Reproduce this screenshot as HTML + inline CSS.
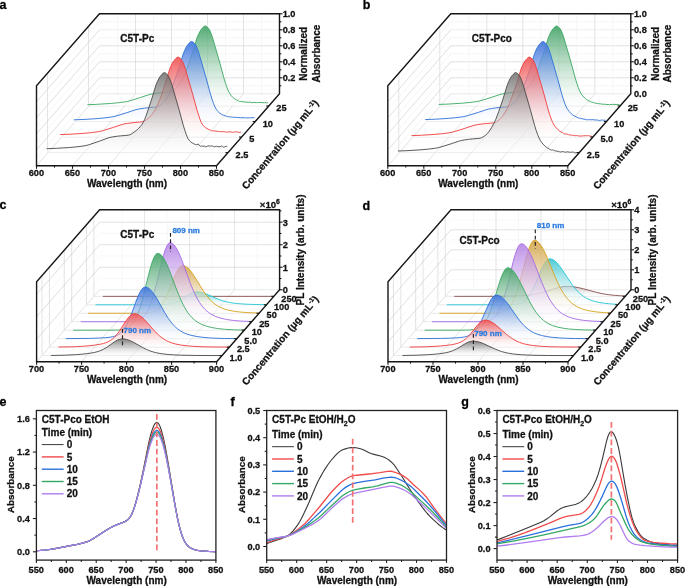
<!DOCTYPE html>
<html><head><meta charset="utf-8"><style>
html,body{margin:0;padding:0;background:#fff;}
svg{display:block;font-family:"Liberation Sans", sans-serif;filter:blur(0.25px);}
</style></head><body>
<svg width="685" height="586" viewBox="0 0 685 586">
<defs><linearGradient id="g1" gradientUnits="userSpaceOnUse" x1="0" y1="25.98" x2="0" y2="105.97"><stop offset="0" stop-color="#3c9f62" stop-opacity="0.880"/><stop offset="0.2" stop-color="#3c9f62" stop-opacity="0.629"/><stop offset="0.4" stop-color="#3c9f62" stop-opacity="0.409"/><stop offset="0.6" stop-color="#3c9f62" stop-opacity="0.223"/><stop offset="0.8" stop-color="#3c9f62" stop-opacity="0.078"/><stop offset="1.0" stop-color="#3c9f62" stop-opacity="0.000"/></linearGradient><linearGradient id="g2" gradientUnits="userSpaceOnUse" x1="0" y1="41.53" x2="0" y2="121.52"><stop offset="0" stop-color="#3b72dc" stop-opacity="0.900"/><stop offset="0.2" stop-color="#3b72dc" stop-opacity="0.643"/><stop offset="0.4" stop-color="#3b72dc" stop-opacity="0.419"/><stop offset="0.6" stop-color="#3b72dc" stop-opacity="0.228"/><stop offset="0.8" stop-color="#3b72dc" stop-opacity="0.080"/><stop offset="1.0" stop-color="#3b72dc" stop-opacity="0.000"/></linearGradient><linearGradient id="g3" gradientUnits="userSpaceOnUse" x1="0" y1="57.09" x2="0" y2="137.07"><stop offset="0" stop-color="#f05050" stop-opacity="0.900"/><stop offset="0.2" stop-color="#f05050" stop-opacity="0.643"/><stop offset="0.4" stop-color="#f05050" stop-opacity="0.419"/><stop offset="0.6" stop-color="#f05050" stop-opacity="0.228"/><stop offset="0.8" stop-color="#f05050" stop-opacity="0.080"/><stop offset="1.0" stop-color="#f05050" stop-opacity="0.000"/></linearGradient><linearGradient id="g4" gradientUnits="userSpaceOnUse" x1="0" y1="72.64" x2="0" y2="152.62"><stop offset="0" stop-color="#4a4a4a" stop-opacity="0.680"/><stop offset="0.2" stop-color="#4a4a4a" stop-opacity="0.486"/><stop offset="0.4" stop-color="#4a4a4a" stop-opacity="0.316"/><stop offset="0.6" stop-color="#4a4a4a" stop-opacity="0.172"/><stop offset="0.8" stop-color="#4a4a4a" stop-opacity="0.061"/><stop offset="1.0" stop-color="#4a4a4a" stop-opacity="0.000"/></linearGradient><linearGradient id="g5" gradientUnits="userSpaceOnUse" x1="0" y1="25.98" x2="0" y2="105.97"><stop offset="0" stop-color="#3c9f62" stop-opacity="0.880"/><stop offset="0.2" stop-color="#3c9f62" stop-opacity="0.629"/><stop offset="0.4" stop-color="#3c9f62" stop-opacity="0.409"/><stop offset="0.6" stop-color="#3c9f62" stop-opacity="0.223"/><stop offset="0.8" stop-color="#3c9f62" stop-opacity="0.078"/><stop offset="1.0" stop-color="#3c9f62" stop-opacity="0.000"/></linearGradient><linearGradient id="g6" gradientUnits="userSpaceOnUse" x1="0" y1="41.53" x2="0" y2="121.52"><stop offset="0" stop-color="#3b72dc" stop-opacity="0.900"/><stop offset="0.2" stop-color="#3b72dc" stop-opacity="0.643"/><stop offset="0.4" stop-color="#3b72dc" stop-opacity="0.419"/><stop offset="0.6" stop-color="#3b72dc" stop-opacity="0.228"/><stop offset="0.8" stop-color="#3b72dc" stop-opacity="0.080"/><stop offset="1.0" stop-color="#3b72dc" stop-opacity="0.000"/></linearGradient><linearGradient id="g7" gradientUnits="userSpaceOnUse" x1="0" y1="57.09" x2="0" y2="137.07"><stop offset="0" stop-color="#f05050" stop-opacity="0.900"/><stop offset="0.2" stop-color="#f05050" stop-opacity="0.643"/><stop offset="0.4" stop-color="#f05050" stop-opacity="0.419"/><stop offset="0.6" stop-color="#f05050" stop-opacity="0.228"/><stop offset="0.8" stop-color="#f05050" stop-opacity="0.080"/><stop offset="1.0" stop-color="#f05050" stop-opacity="0.000"/></linearGradient><linearGradient id="g8" gradientUnits="userSpaceOnUse" x1="0" y1="72.64" x2="0" y2="152.62"><stop offset="0" stop-color="#4a4a4a" stop-opacity="0.680"/><stop offset="0.2" stop-color="#4a4a4a" stop-opacity="0.486"/><stop offset="0.4" stop-color="#4a4a4a" stop-opacity="0.316"/><stop offset="0.6" stop-color="#4a4a4a" stop-opacity="0.172"/><stop offset="0.8" stop-color="#4a4a4a" stop-opacity="0.061"/><stop offset="1.0" stop-color="#4a4a4a" stop-opacity="0.000"/></linearGradient><linearGradient id="g9" gradientUnits="userSpaceOnUse" x1="0" y1="291.74" x2="0" y2="304.81"><stop offset="0" stop-color="#30c2cc" stop-opacity="0.850"/><stop offset="0.2" stop-color="#30c2cc" stop-opacity="0.608"/><stop offset="0.4" stop-color="#30c2cc" stop-opacity="0.395"/><stop offset="0.6" stop-color="#30c2cc" stop-opacity="0.215"/><stop offset="0.8" stop-color="#30c2cc" stop-opacity="0.076"/><stop offset="1.0" stop-color="#30c2cc" stop-opacity="0.000"/></linearGradient><linearGradient id="g10" gradientUnits="userSpaceOnUse" x1="0" y1="265.57" x2="0" y2="313.27"><stop offset="0" stop-color="#d0a040" stop-opacity="0.880"/><stop offset="0.2" stop-color="#d0a040" stop-opacity="0.629"/><stop offset="0.4" stop-color="#d0a040" stop-opacity="0.409"/><stop offset="0.6" stop-color="#d0a040" stop-opacity="0.223"/><stop offset="0.8" stop-color="#d0a040" stop-opacity="0.078"/><stop offset="1.0" stop-color="#d0a040" stop-opacity="0.000"/></linearGradient><linearGradient id="g11" gradientUnits="userSpaceOnUse" x1="0" y1="242.68" x2="0" y2="321.73"><stop offset="0" stop-color="#a86ce0" stop-opacity="0.750"/><stop offset="0.2" stop-color="#a86ce0" stop-opacity="0.536"/><stop offset="0.4" stop-color="#a86ce0" stop-opacity="0.349"/><stop offset="0.6" stop-color="#a86ce0" stop-opacity="0.190"/><stop offset="0.8" stop-color="#a86ce0" stop-opacity="0.067"/><stop offset="1.0" stop-color="#a86ce0" stop-opacity="0.000"/></linearGradient><linearGradient id="g12" gradientUnits="userSpaceOnUse" x1="0" y1="253.35" x2="0" y2="330.19"><stop offset="0" stop-color="#3c9f62" stop-opacity="0.880"/><stop offset="0.2" stop-color="#3c9f62" stop-opacity="0.629"/><stop offset="0.4" stop-color="#3c9f62" stop-opacity="0.409"/><stop offset="0.6" stop-color="#3c9f62" stop-opacity="0.223"/><stop offset="0.8" stop-color="#3c9f62" stop-opacity="0.078"/><stop offset="1.0" stop-color="#3c9f62" stop-opacity="0.000"/></linearGradient><linearGradient id="g13" gradientUnits="userSpaceOnUse" x1="0" y1="287.05" x2="0" y2="338.65"><stop offset="0" stop-color="#3b72dc" stop-opacity="0.900"/><stop offset="0.2" stop-color="#3b72dc" stop-opacity="0.643"/><stop offset="0.4" stop-color="#3b72dc" stop-opacity="0.419"/><stop offset="0.6" stop-color="#3b72dc" stop-opacity="0.228"/><stop offset="0.8" stop-color="#3b72dc" stop-opacity="0.080"/><stop offset="1.0" stop-color="#3b72dc" stop-opacity="0.000"/></linearGradient><linearGradient id="g14" gradientUnits="userSpaceOnUse" x1="0" y1="313.76" x2="0" y2="347.11"><stop offset="0" stop-color="#f05050" stop-opacity="0.900"/><stop offset="0.2" stop-color="#f05050" stop-opacity="0.643"/><stop offset="0.4" stop-color="#f05050" stop-opacity="0.419"/><stop offset="0.6" stop-color="#f05050" stop-opacity="0.228"/><stop offset="0.8" stop-color="#f05050" stop-opacity="0.080"/><stop offset="1.0" stop-color="#f05050" stop-opacity="0.000"/></linearGradient><linearGradient id="g15" gradientUnits="userSpaceOnUse" x1="0" y1="338.91" x2="0" y2="355.57"><stop offset="0" stop-color="#4a4a4a" stop-opacity="0.680"/><stop offset="0.2" stop-color="#4a4a4a" stop-opacity="0.486"/><stop offset="0.4" stop-color="#4a4a4a" stop-opacity="0.316"/><stop offset="0.6" stop-color="#4a4a4a" stop-opacity="0.172"/><stop offset="0.8" stop-color="#4a4a4a" stop-opacity="0.061"/><stop offset="1.0" stop-color="#4a4a4a" stop-opacity="0.000"/></linearGradient><linearGradient id="g16" gradientUnits="userSpaceOnUse" x1="0" y1="286.35" x2="0" y2="296.35"><stop offset="0" stop-color="#8c7070" stop-opacity="0.400"/><stop offset="0.2" stop-color="#8c7070" stop-opacity="0.286"/><stop offset="0.4" stop-color="#8c7070" stop-opacity="0.186"/><stop offset="0.6" stop-color="#8c7070" stop-opacity="0.101"/><stop offset="0.8" stop-color="#8c7070" stop-opacity="0.036"/><stop offset="1.0" stop-color="#8c7070" stop-opacity="0.000"/></linearGradient><linearGradient id="g17" gradientUnits="userSpaceOnUse" x1="0" y1="258.81" x2="0" y2="304.81"><stop offset="0" stop-color="#30c2cc" stop-opacity="0.850"/><stop offset="0.2" stop-color="#30c2cc" stop-opacity="0.608"/><stop offset="0.4" stop-color="#30c2cc" stop-opacity="0.395"/><stop offset="0.6" stop-color="#30c2cc" stop-opacity="0.215"/><stop offset="0.8" stop-color="#30c2cc" stop-opacity="0.076"/><stop offset="1.0" stop-color="#30c2cc" stop-opacity="0.000"/></linearGradient><linearGradient id="g18" gradientUnits="userSpaceOnUse" x1="0" y1="240.29" x2="0" y2="313.27"><stop offset="0" stop-color="#d0a040" stop-opacity="0.880"/><stop offset="0.2" stop-color="#d0a040" stop-opacity="0.629"/><stop offset="0.4" stop-color="#d0a040" stop-opacity="0.409"/><stop offset="0.6" stop-color="#d0a040" stop-opacity="0.223"/><stop offset="0.8" stop-color="#d0a040" stop-opacity="0.078"/><stop offset="1.0" stop-color="#d0a040" stop-opacity="0.000"/></linearGradient><linearGradient id="g19" gradientUnits="userSpaceOnUse" x1="0" y1="243.8" x2="0" y2="321.73"><stop offset="0" stop-color="#a86ce0" stop-opacity="0.750"/><stop offset="0.2" stop-color="#a86ce0" stop-opacity="0.536"/><stop offset="0.4" stop-color="#a86ce0" stop-opacity="0.349"/><stop offset="0.6" stop-color="#a86ce0" stop-opacity="0.190"/><stop offset="0.8" stop-color="#a86ce0" stop-opacity="0.067"/><stop offset="1.0" stop-color="#a86ce0" stop-opacity="0.000"/></linearGradient><linearGradient id="g20" gradientUnits="userSpaceOnUse" x1="0" y1="267.81" x2="0" y2="330.19"><stop offset="0" stop-color="#3c9f62" stop-opacity="0.880"/><stop offset="0.2" stop-color="#3c9f62" stop-opacity="0.629"/><stop offset="0.4" stop-color="#3c9f62" stop-opacity="0.409"/><stop offset="0.6" stop-color="#3c9f62" stop-opacity="0.223"/><stop offset="0.8" stop-color="#3c9f62" stop-opacity="0.078"/><stop offset="1.0" stop-color="#3c9f62" stop-opacity="0.000"/></linearGradient><linearGradient id="g21" gradientUnits="userSpaceOnUse" x1="0" y1="295.05" x2="0" y2="338.65"><stop offset="0" stop-color="#3b72dc" stop-opacity="0.900"/><stop offset="0.2" stop-color="#3b72dc" stop-opacity="0.643"/><stop offset="0.4" stop-color="#3b72dc" stop-opacity="0.419"/><stop offset="0.6" stop-color="#3b72dc" stop-opacity="0.228"/><stop offset="0.8" stop-color="#3b72dc" stop-opacity="0.080"/><stop offset="1.0" stop-color="#3b72dc" stop-opacity="0.000"/></linearGradient><linearGradient id="g22" gradientUnits="userSpaceOnUse" x1="0" y1="320.12" x2="0" y2="347.11"><stop offset="0" stop-color="#f05050" stop-opacity="0.900"/><stop offset="0.2" stop-color="#f05050" stop-opacity="0.643"/><stop offset="0.4" stop-color="#f05050" stop-opacity="0.419"/><stop offset="0.6" stop-color="#f05050" stop-opacity="0.228"/><stop offset="0.8" stop-color="#f05050" stop-opacity="0.080"/><stop offset="1.0" stop-color="#f05050" stop-opacity="0.000"/></linearGradient><linearGradient id="g23" gradientUnits="userSpaceOnUse" x1="0" y1="341.18" x2="0" y2="355.57"><stop offset="0" stop-color="#4a4a4a" stop-opacity="0.680"/><stop offset="0.2" stop-color="#4a4a4a" stop-opacity="0.486"/><stop offset="0.4" stop-color="#4a4a4a" stop-opacity="0.316"/><stop offset="0.6" stop-color="#4a4a4a" stop-opacity="0.172"/><stop offset="0.8" stop-color="#4a4a4a" stop-opacity="0.061"/><stop offset="1.0" stop-color="#4a4a4a" stop-opacity="0.000"/></linearGradient></defs>
<rect width="685" height="586" fill="#fff"/>
<line x1="99.5" y1="85.8" x2="279.5" y2="85.8" stroke="#eeeeee" stroke-width="0.6" />
<line x1="99.5" y1="69.8" x2="279.5" y2="69.8" stroke="#eeeeee" stroke-width="0.6" />
<line x1="99.5" y1="53.8" x2="279.5" y2="53.8" stroke="#eeeeee" stroke-width="0.6" />
<line x1="99.5" y1="37.8" x2="279.5" y2="37.8" stroke="#eeeeee" stroke-width="0.6" />
<line x1="99.5" y1="21.8" x2="279.5" y2="21.8" stroke="#eeeeee" stroke-width="0.6" />
<line x1="99.5" y1="77.8" x2="279.5" y2="77.8" stroke="#cdcdcd" stroke-width="0.6" />
<line x1="99.5" y1="61.8" x2="279.5" y2="61.8" stroke="#cdcdcd" stroke-width="0.6" />
<line x1="99.5" y1="45.8" x2="279.5" y2="45.8" stroke="#cdcdcd" stroke-width="0.6" />
<line x1="99.5" y1="29.8" x2="279.5" y2="29.8" stroke="#e3e3e3" stroke-width="0.6" />
<line x1="117.5" y1="93.8" x2="117.5" y2="13.8" stroke="#f0f0f0" stroke-width="0.6" />
<line x1="153.5" y1="93.8" x2="153.5" y2="13.8" stroke="#f0f0f0" stroke-width="0.6" />
<line x1="189.5" y1="93.8" x2="189.5" y2="13.8" stroke="#f0f0f0" stroke-width="0.6" />
<line x1="225.5" y1="93.8" x2="225.5" y2="13.8" stroke="#f0f0f0" stroke-width="0.6" />
<line x1="261.5" y1="93.8" x2="261.5" y2="13.8" stroke="#f0f0f0" stroke-width="0.6" />
<line x1="135.5" y1="93.8" x2="135.5" y2="13.8" stroke="#d2d2d2" stroke-width="0.6" />
<line x1="171.5" y1="93.8" x2="171.5" y2="13.8" stroke="#d2d2d2" stroke-width="0.6" />
<line x1="207.5" y1="93.8" x2="207.5" y2="13.8" stroke="#d2d2d2" stroke-width="0.6" />
<line x1="243.5" y1="93.8" x2="243.5" y2="13.8" stroke="#d2d2d2" stroke-width="0.6" />
<line x1="36.5" y1="157.8" x2="99.5" y2="85.8" stroke="#eeeeee" stroke-width="0.6" />
<line x1="36.5" y1="141.8" x2="99.5" y2="69.8" stroke="#eeeeee" stroke-width="0.6" />
<line x1="36.5" y1="125.8" x2="99.5" y2="53.8" stroke="#eeeeee" stroke-width="0.6" />
<line x1="36.5" y1="109.8" x2="99.5" y2="37.8" stroke="#eeeeee" stroke-width="0.6" />
<line x1="36.5" y1="93.8" x2="99.5" y2="21.8" stroke="#eeeeee" stroke-width="0.6" />
<line x1="36.5" y1="149.8" x2="99.5" y2="77.8" stroke="#c8c8c8" stroke-width="0.6" />
<line x1="36.5" y1="133.8" x2="99.5" y2="61.8" stroke="#c8c8c8" stroke-width="0.6" />
<line x1="36.5" y1="117.8" x2="99.5" y2="45.8" stroke="#c8c8c8" stroke-width="0.6" />
<line x1="36.5" y1="101.8" x2="99.5" y2="29.8" stroke="#c8c8c8" stroke-width="0.6" />
<line x1="47.52" y1="153.2" x2="47.52" y2="73.2" stroke="#d0d0d0" stroke-width="0.6" />
<line x1="88.47" y1="106.4" x2="88.47" y2="26.4" stroke="#d0d0d0" stroke-width="0.6" />
<line x1="36.5" y1="165.8" x2="99.5" y2="93.8" stroke="#cfcfcf" stroke-width="0.6" />
<line x1="99.5" y1="93.8" x2="279.5" y2="93.8" stroke="#d6d6d6" stroke-width="0.6" />
<line x1="48.03" y1="152.62" x2="228.03" y2="152.62" stroke="#e8e8e8" stroke-width="1.0" />
<line x1="61.64" y1="137.07" x2="241.64" y2="137.07" stroke="#e8e8e8" stroke-width="1.0" />
<line x1="75.25" y1="121.52" x2="255.25" y2="121.52" stroke="#e8e8e8" stroke-width="1.0" />
<line x1="88.85" y1="105.97" x2="268.85" y2="105.97" stroke="#e8e8e8" stroke-width="1.0" />
<line x1="72.5" y1="165.8" x2="135.5" y2="93.8" stroke="#d0d0d0" stroke-width="0.6" />
<line x1="108.5" y1="165.8" x2="171.5" y2="93.8" stroke="#d0d0d0" stroke-width="0.6" />
<line x1="144.5" y1="165.8" x2="207.5" y2="93.8" stroke="#d0d0d0" stroke-width="0.6" />
<line x1="180.5" y1="165.8" x2="243.5" y2="93.8" stroke="#d0d0d0" stroke-width="0.6" />
<line x1="216.5" y1="165.8" x2="279.5" y2="93.8" stroke="#d0d0d0" stroke-width="0.6" />
<path d="M87.41,104.69 L97.49,104.30 L110.45,103.47 L117.65,102.81 L124.85,101.89 L127.73,101.33 L130.61,100.57 L140.69,97.44 L147.89,95.00 L150.77,94.20 L153.65,93.63 L157.97,93.02 L162.29,92.55 L166.61,92.24 L169.49,91.89 L170.93,91.47 L172.37,90.73 L173.81,89.78 L175.25,88.69 L176.69,87.33 L178.13,85.55 L179.57,83.44 L181.01,81.06 L183.89,75.76 L185.33,72.55 L188.21,64.99 L192.53,52.37 L196.85,38.23 L198.29,34.72 L199.73,31.78 L201.17,29.57 L202.61,27.82 L204.05,26.43 L205.49,25.98 L206.93,26.74 L208.37,28.27 L209.81,30.37 L211.25,33.95 L212.69,38.15 L219.89,63.10 L224.21,79.04 L225.65,83.63 L227.09,87.78 L228.53,91.35 L229.97,93.95 L231.41,95.88 L232.85,97.37 L234.29,98.56 L236.45,99.84 L237.17,100.01 L238.61,101.03 L239.33,101.38 L240.77,101.37 L242.93,101.80 L245.81,102.02 L247.97,102.34 L249.41,102.16 L250.13,102.22 L251.57,102.69 L253.73,102.39 L255.17,102.61 L256.61,102.64 L257.33,102.53 L258.05,102.63 L258.77,102.52 L260.93,102.50 L263.09,102.70 L264.53,102.57 L266.69,102.78 L268.13,102.74 L268.13,105.97 L87.41,105.97Z" fill="#fff" fill-opacity="0.45" stroke="none"/>
<path d="M87.41,104.69 L97.49,104.30 L110.45,103.47 L117.65,102.81 L124.85,101.89 L127.73,101.33 L130.61,100.57 L140.69,97.44 L147.89,95.00 L150.77,94.20 L153.65,93.63 L157.97,93.02 L162.29,92.55 L166.61,92.24 L169.49,91.89 L170.93,91.47 L172.37,90.73 L173.81,89.78 L175.25,88.69 L176.69,87.33 L178.13,85.55 L179.57,83.44 L181.01,81.06 L183.89,75.76 L185.33,72.55 L188.21,64.99 L192.53,52.37 L196.85,38.23 L198.29,34.72 L199.73,31.78 L201.17,29.57 L202.61,27.82 L204.05,26.43 L205.49,25.98 L206.93,26.74 L208.37,28.27 L209.81,30.37 L211.25,33.95 L212.69,38.15 L219.89,63.10 L224.21,79.04 L225.65,83.63 L227.09,87.78 L228.53,91.35 L229.97,93.95 L231.41,95.88 L232.85,97.37 L234.29,98.56 L236.45,99.84 L237.17,100.01 L238.61,101.03 L239.33,101.38 L240.77,101.37 L242.93,101.80 L245.81,102.02 L247.97,102.34 L249.41,102.16 L250.13,102.22 L251.57,102.69 L253.73,102.39 L255.17,102.61 L256.61,102.64 L257.33,102.53 L258.05,102.63 L258.77,102.52 L260.93,102.50 L263.09,102.70 L264.53,102.57 L266.69,102.78 L268.13,102.74 L268.13,105.97 L87.41,105.97Z" fill="url(#g1)" stroke="none"/>
<path d="M87.41,104.69 L97.49,104.30 L110.45,103.47 L117.65,102.81 L124.85,101.89 L127.73,101.33 L130.61,100.57 L140.69,97.44 L147.89,95.00 L150.77,94.20 L153.65,93.63 L157.97,93.02 L162.29,92.55 L166.61,92.24 L169.49,91.89 L170.93,91.47 L172.37,90.73 L173.81,89.78 L175.25,88.69 L176.69,87.33 L178.13,85.55 L179.57,83.44 L181.01,81.06 L183.89,75.76 L185.33,72.55 L188.21,64.99 L192.53,52.37 L196.85,38.23 L198.29,34.72 L199.73,31.78 L201.17,29.57 L202.61,27.82 L204.05,26.43 L205.49,25.98 L206.93,26.74 L208.37,28.27 L209.81,30.37 L211.25,33.95 L212.69,38.15 L219.89,63.10 L224.21,79.04 L225.65,83.63 L227.09,87.78 L228.53,91.35 L229.97,93.95 L231.41,95.88 L232.85,97.37 L234.29,98.56 L236.45,99.84 L237.17,100.01 L238.61,101.03 L239.33,101.38 L240.77,101.37 L242.93,101.80 L245.81,102.02 L247.97,102.34 L249.41,102.16 L250.13,102.22 L251.57,102.69 L253.73,102.39 L255.17,102.61 L256.61,102.64 L257.33,102.53 L258.05,102.63 L258.77,102.52 L260.93,102.50 L263.09,102.70 L264.53,102.57 L266.69,102.78 L268.13,102.74" fill="none" stroke="#3aa862" stroke-width="0.9" stroke-linejoin="round"/>
<path d="M73.81,119.84 L83.88,119.45 L96.84,118.62 L104.04,117.97 L111.25,117.04 L114.12,116.48 L117.00,115.72 L127.09,112.60 L134.28,110.15 L137.16,109.35 L140.04,108.79 L144.37,108.17 L148.69,107.70 L153.00,107.39 L155.88,107.04 L157.32,106.62 L158.77,105.88 L161.64,103.84 L163.09,102.51 L164.53,100.80 L165.97,98.78 L167.41,96.50 L170.29,91.33 L171.73,88.16 L174.61,80.59 L178.93,67.92 L183.25,53.78 L184.69,50.28 L186.12,47.33 L187.56,45.12 L189.00,43.37 L190.44,41.98 L191.88,41.53 L193.32,42.29 L194.77,43.82 L196.21,45.92 L197.65,49.50 L199.08,53.70 L206.28,78.66 L210.61,94.59 L212.05,99.18 L213.49,103.36 L214.93,106.93 L216.37,109.45 L217.81,111.29 L219.97,113.30 L221.41,114.29 L222.84,115.05 L223.56,115.16 L225.00,115.86 L226.44,116.23 L227.16,116.16 L227.88,116.62 L229.32,116.91 L230.05,116.86 L231.49,117.08 L232.21,117.07 L233.65,117.36 L235.81,117.27 L237.25,117.50 L237.97,117.45 L240.12,117.82 L244.44,117.67 L245.16,117.87 L245.88,117.74 L246.60,117.95 L249.49,117.78 L250.21,117.88 L253.09,117.66 L254.53,117.72 L254.53,121.52 L73.81,121.52Z" fill="#fff" fill-opacity="0.45" stroke="none"/>
<path d="M73.81,119.84 L83.88,119.45 L96.84,118.62 L104.04,117.97 L111.25,117.04 L114.12,116.48 L117.00,115.72 L127.09,112.60 L134.28,110.15 L137.16,109.35 L140.04,108.79 L144.37,108.17 L148.69,107.70 L153.00,107.39 L155.88,107.04 L157.32,106.62 L158.77,105.88 L161.64,103.84 L163.09,102.51 L164.53,100.80 L165.97,98.78 L167.41,96.50 L170.29,91.33 L171.73,88.16 L174.61,80.59 L178.93,67.92 L183.25,53.78 L184.69,50.28 L186.12,47.33 L187.56,45.12 L189.00,43.37 L190.44,41.98 L191.88,41.53 L193.32,42.29 L194.77,43.82 L196.21,45.92 L197.65,49.50 L199.08,53.70 L206.28,78.66 L210.61,94.59 L212.05,99.18 L213.49,103.36 L214.93,106.93 L216.37,109.45 L217.81,111.29 L219.97,113.30 L221.41,114.29 L222.84,115.05 L223.56,115.16 L225.00,115.86 L226.44,116.23 L227.16,116.16 L227.88,116.62 L229.32,116.91 L230.05,116.86 L231.49,117.08 L232.21,117.07 L233.65,117.36 L235.81,117.27 L237.25,117.50 L237.97,117.45 L240.12,117.82 L244.44,117.67 L245.16,117.87 L245.88,117.74 L246.60,117.95 L249.49,117.78 L250.21,117.88 L253.09,117.66 L254.53,117.72 L254.53,121.52 L73.81,121.52Z" fill="url(#g2)" stroke="none"/>
<path d="M73.81,119.84 L83.88,119.45 L96.84,118.62 L104.04,117.97 L111.25,117.04 L114.12,116.48 L117.00,115.72 L127.09,112.60 L134.28,110.15 L137.16,109.35 L140.04,108.79 L144.37,108.17 L148.69,107.70 L153.00,107.39 L155.88,107.04 L157.32,106.62 L158.77,105.88 L161.64,103.84 L163.09,102.51 L164.53,100.80 L165.97,98.78 L167.41,96.50 L170.29,91.33 L171.73,88.16 L174.61,80.59 L178.93,67.92 L183.25,53.78 L184.69,50.28 L186.12,47.33 L187.56,45.12 L189.00,43.37 L190.44,41.98 L191.88,41.53 L193.32,42.29 L194.77,43.82 L196.21,45.92 L197.65,49.50 L199.08,53.70 L206.28,78.66 L210.61,94.59 L212.05,99.18 L213.49,103.36 L214.93,106.93 L216.37,109.45 L217.81,111.29 L219.97,113.30 L221.41,114.29 L222.84,115.05 L223.56,115.16 L225.00,115.86 L226.44,116.23 L227.16,116.16 L227.88,116.62 L229.32,116.91 L230.05,116.86 L231.49,117.08 L232.21,117.07 L233.65,117.36 L235.81,117.27 L237.25,117.50 L237.97,117.45 L240.12,117.82 L244.44,117.67 L245.16,117.87 L245.88,117.74 L246.60,117.95 L249.49,117.78 L250.21,117.88 L253.09,117.66 L254.53,117.72" fill="none" stroke="#2b6fd8" stroke-width="0.9" stroke-linejoin="round"/>
<path d="M60.20,134.59 L70.28,134.20 L83.24,133.37 L90.44,132.72 L97.64,131.79 L100.52,131.23 L103.40,130.47 L113.48,127.35 L120.68,124.91 L123.56,124.10 L126.44,123.54 L130.76,122.93 L135.08,122.45 L139.40,122.14 L142.28,121.79 L143.72,121.36 L145.16,120.62 L148.04,118.59 L149.48,117.33 L150.92,115.75 L152.36,113.90 L153.80,111.81 L155.24,109.50 L156.68,106.94 L158.12,103.83 L159.56,100.21 L161.00,96.24 L165.32,83.47 L169.64,69.34 L171.08,65.83 L172.52,62.88 L173.96,60.67 L175.40,58.92 L176.84,57.53 L178.28,57.09 L179.72,57.84 L181.16,59.37 L182.60,61.47 L184.04,65.05 L185.48,69.25 L192.68,94.21 L197.00,110.14 L199.88,118.97 L201.32,122.56 L202.76,124.89 L204.20,126.47 L205.64,127.70 L207.08,128.68 L209.24,129.75 L209.96,129.97 L210.68,130.06 L211.40,130.62 L212.12,130.88 L212.84,130.98 L214.28,130.84 L215.00,130.87 L217.16,131.31 L218.60,131.47 L219.32,131.55 L220.76,131.51 L222.20,131.78 L222.92,131.60 L223.64,131.61 L224.36,131.73 L225.08,132.02 L225.80,131.85 L226.52,132.09 L227.96,132.06 L229.40,131.80 L230.84,131.86 L232.28,132.30 L233.00,132.31 L233.72,132.11 L234.44,132.03 L235.16,131.73 L235.88,131.98 L236.60,131.74 L238.76,132.45 L240.92,132.23 L240.92,137.07 L60.20,137.07Z" fill="#fff" fill-opacity="0.45" stroke="none"/>
<path d="M60.20,134.59 L70.28,134.20 L83.24,133.37 L90.44,132.72 L97.64,131.79 L100.52,131.23 L103.40,130.47 L113.48,127.35 L120.68,124.91 L123.56,124.10 L126.44,123.54 L130.76,122.93 L135.08,122.45 L139.40,122.14 L142.28,121.79 L143.72,121.36 L145.16,120.62 L148.04,118.59 L149.48,117.33 L150.92,115.75 L152.36,113.90 L153.80,111.81 L155.24,109.50 L156.68,106.94 L158.12,103.83 L159.56,100.21 L161.00,96.24 L165.32,83.47 L169.64,69.34 L171.08,65.83 L172.52,62.88 L173.96,60.67 L175.40,58.92 L176.84,57.53 L178.28,57.09 L179.72,57.84 L181.16,59.37 L182.60,61.47 L184.04,65.05 L185.48,69.25 L192.68,94.21 L197.00,110.14 L199.88,118.97 L201.32,122.56 L202.76,124.89 L204.20,126.47 L205.64,127.70 L207.08,128.68 L209.24,129.75 L209.96,129.97 L210.68,130.06 L211.40,130.62 L212.12,130.88 L212.84,130.98 L214.28,130.84 L215.00,130.87 L217.16,131.31 L218.60,131.47 L219.32,131.55 L220.76,131.51 L222.20,131.78 L222.92,131.60 L223.64,131.61 L224.36,131.73 L225.08,132.02 L225.80,131.85 L226.52,132.09 L227.96,132.06 L229.40,131.80 L230.84,131.86 L232.28,132.30 L233.00,132.31 L233.72,132.11 L234.44,132.03 L235.16,131.73 L235.88,131.98 L236.60,131.74 L238.76,132.45 L240.92,132.23 L240.92,137.07 L60.20,137.07Z" fill="url(#g3)" stroke="none"/>
<path d="M60.20,134.59 L70.28,134.20 L83.24,133.37 L90.44,132.72 L97.64,131.79 L100.52,131.23 L103.40,130.47 L113.48,127.35 L120.68,124.91 L123.56,124.10 L126.44,123.54 L130.76,122.93 L135.08,122.45 L139.40,122.14 L142.28,121.79 L143.72,121.36 L145.16,120.62 L148.04,118.59 L149.48,117.33 L150.92,115.75 L152.36,113.90 L153.80,111.81 L155.24,109.50 L156.68,106.94 L158.12,103.83 L159.56,100.21 L161.00,96.24 L165.32,83.47 L169.64,69.34 L171.08,65.83 L172.52,62.88 L173.96,60.67 L175.40,58.92 L176.84,57.53 L178.28,57.09 L179.72,57.84 L181.16,59.37 L182.60,61.47 L184.04,65.05 L185.48,69.25 L192.68,94.21 L197.00,110.14 L199.88,118.97 L201.32,122.56 L202.76,124.89 L204.20,126.47 L205.64,127.70 L207.08,128.68 L209.24,129.75 L209.96,129.97 L210.68,130.06 L211.40,130.62 L212.12,130.88 L212.84,130.98 L214.28,130.84 L215.00,130.87 L217.16,131.31 L218.60,131.47 L219.32,131.55 L220.76,131.51 L222.20,131.78 L222.92,131.60 L223.64,131.61 L224.36,131.73 L225.08,132.02 L225.80,131.85 L226.52,132.09 L227.96,132.06 L229.40,131.80 L230.84,131.86 L232.28,132.30 L233.00,132.31 L233.72,132.11 L234.44,132.03 L235.16,131.73 L235.88,131.98 L236.60,131.74 L238.76,132.45 L240.92,132.23" fill="none" stroke="#ee3b3b" stroke-width="0.9" stroke-linejoin="round"/>
<path d="M46.59,148.70 L56.67,148.31 L69.63,147.49 L76.83,146.84 L84.03,145.90 L86.91,145.31 L89.79,144.48 L99.87,141.01 L107.07,138.30 L109.95,137.43 L112.83,136.85 L117.15,136.23 L121.47,135.77 L125.79,135.45 L128.67,135.10 L130.11,134.66 L131.55,133.89 L135.87,130.83 L137.31,129.62 L138.75,128.24 L140.19,126.66 L141.63,124.84 L143.07,122.66 L144.51,119.73 L145.95,116.14 L147.39,112.08 L151.71,99.02 L156.03,84.89 L157.47,81.38 L158.91,78.44 L160.35,76.22 L161.79,74.47 L163.23,73.08 L164.67,72.64 L166.11,73.39 L167.55,74.93 L168.99,77.02 L170.43,80.61 L171.87,84.81 L179.07,109.76 L183.39,125.69 L184.83,130.29 L186.27,134.59 L187.71,138.18 L189.15,140.33 L190.59,141.70 L192.03,142.77 L193.47,143.63 L195.63,144.56 L196.35,144.68 L197.07,144.38 L198.51,144.30 L199.23,145.33 L200.67,146.34 L201.39,145.95 L202.11,146.41 L202.83,146.14 L204.27,145.98 L205.71,146.86 L207.15,146.37 L207.87,145.85 L209.31,145.93 L210.03,146.31 L210.75,145.96 L211.47,145.98 L212.19,145.76 L212.91,146.32 L213.63,146.52 L214.35,146.95 L215.07,146.46 L216.51,146.21 L217.23,146.59 L220.11,146.81 L220.83,146.21 L221.55,146.08 L222.27,146.28 L222.99,146.99 L223.71,147.20 L224.43,146.99 L225.87,146.35 L226.59,146.39 L227.31,146.55 L227.31,152.62 L46.59,152.62Z" fill="#fff" fill-opacity="0.45" stroke="none"/>
<path d="M46.59,148.70 L56.67,148.31 L69.63,147.49 L76.83,146.84 L84.03,145.90 L86.91,145.31 L89.79,144.48 L99.87,141.01 L107.07,138.30 L109.95,137.43 L112.83,136.85 L117.15,136.23 L121.47,135.77 L125.79,135.45 L128.67,135.10 L130.11,134.66 L131.55,133.89 L135.87,130.83 L137.31,129.62 L138.75,128.24 L140.19,126.66 L141.63,124.84 L143.07,122.66 L144.51,119.73 L145.95,116.14 L147.39,112.08 L151.71,99.02 L156.03,84.89 L157.47,81.38 L158.91,78.44 L160.35,76.22 L161.79,74.47 L163.23,73.08 L164.67,72.64 L166.11,73.39 L167.55,74.93 L168.99,77.02 L170.43,80.61 L171.87,84.81 L179.07,109.76 L183.39,125.69 L184.83,130.29 L186.27,134.59 L187.71,138.18 L189.15,140.33 L190.59,141.70 L192.03,142.77 L193.47,143.63 L195.63,144.56 L196.35,144.68 L197.07,144.38 L198.51,144.30 L199.23,145.33 L200.67,146.34 L201.39,145.95 L202.11,146.41 L202.83,146.14 L204.27,145.98 L205.71,146.86 L207.15,146.37 L207.87,145.85 L209.31,145.93 L210.03,146.31 L210.75,145.96 L211.47,145.98 L212.19,145.76 L212.91,146.32 L213.63,146.52 L214.35,146.95 L215.07,146.46 L216.51,146.21 L217.23,146.59 L220.11,146.81 L220.83,146.21 L221.55,146.08 L222.27,146.28 L222.99,146.99 L223.71,147.20 L224.43,146.99 L225.87,146.35 L226.59,146.39 L227.31,146.55 L227.31,152.62 L46.59,152.62Z" fill="url(#g4)" stroke="none"/>
<path d="M46.59,148.70 L56.67,148.31 L69.63,147.49 L76.83,146.84 L84.03,145.90 L86.91,145.31 L89.79,144.48 L99.87,141.01 L107.07,138.30 L109.95,137.43 L112.83,136.85 L117.15,136.23 L121.47,135.77 L125.79,135.45 L128.67,135.10 L130.11,134.66 L131.55,133.89 L135.87,130.83 L137.31,129.62 L138.75,128.24 L140.19,126.66 L141.63,124.84 L143.07,122.66 L144.51,119.73 L145.95,116.14 L147.39,112.08 L151.71,99.02 L156.03,84.89 L157.47,81.38 L158.91,78.44 L160.35,76.22 L161.79,74.47 L163.23,73.08 L164.67,72.64 L166.11,73.39 L167.55,74.93 L168.99,77.02 L170.43,80.61 L171.87,84.81 L179.07,109.76 L183.39,125.69 L184.83,130.29 L186.27,134.59 L187.71,138.18 L189.15,140.33 L190.59,141.70 L192.03,142.77 L193.47,143.63 L195.63,144.56 L196.35,144.68 L197.07,144.38 L198.51,144.30 L199.23,145.33 L200.67,146.34 L201.39,145.95 L202.11,146.41 L202.83,146.14 L204.27,145.98 L205.71,146.86 L207.15,146.37 L207.87,145.85 L209.31,145.93 L210.03,146.31 L210.75,145.96 L211.47,145.98 L212.19,145.76 L212.91,146.32 L213.63,146.52 L214.35,146.95 L215.07,146.46 L216.51,146.21 L217.23,146.59 L220.11,146.81 L220.83,146.21 L221.55,146.08 L222.27,146.28 L222.99,146.99 L223.71,147.20 L224.43,146.99 L225.87,146.35 L226.59,146.39 L227.31,146.55" fill="none" stroke="#484848" stroke-width="0.9" stroke-linejoin="round"/>
<path d="M99.50,13.80 L279.50,13.80 L279.50,93.80 L216.50,165.80 L36.50,165.80 L36.50,85.80Z" fill="none" stroke="#161616" stroke-width="1.4" stroke-linejoin="miter"/>
<line x1="36.5" y1="165.8" x2="36.5" y2="168.8" stroke="#161616" stroke-width="1.1" />
<line x1="72.5" y1="165.8" x2="72.5" y2="168.8" stroke="#161616" stroke-width="1.1" />
<line x1="108.5" y1="165.8" x2="108.5" y2="168.8" stroke="#161616" stroke-width="1.1" />
<line x1="144.5" y1="165.8" x2="144.5" y2="168.8" stroke="#161616" stroke-width="1.1" />
<line x1="180.5" y1="165.8" x2="180.5" y2="168.8" stroke="#161616" stroke-width="1.1" />
<line x1="216.5" y1="165.8" x2="216.5" y2="168.8" stroke="#161616" stroke-width="1.1" />
<line x1="54.5" y1="165.8" x2="54.5" y2="167.6" stroke="#161616" stroke-width="1.1" />
<line x1="90.5" y1="165.8" x2="90.5" y2="167.6" stroke="#161616" stroke-width="1.1" />
<line x1="126.5" y1="165.8" x2="126.5" y2="167.6" stroke="#161616" stroke-width="1.1" />
<line x1="162.5" y1="165.8" x2="162.5" y2="167.6" stroke="#161616" stroke-width="1.1" />
<line x1="198.5" y1="165.8" x2="198.5" y2="167.6" stroke="#161616" stroke-width="1.1" />
<text stroke="#111" stroke-width="0.28" x="36.35" y="176.4" font-size="9.2" text-anchor="middle" font-weight="bold" fill="#111" >600</text>
<text stroke="#111" stroke-width="0.28" x="72.35" y="176.4" font-size="9.2" text-anchor="middle" font-weight="bold" fill="#111" >650</text>
<text stroke="#111" stroke-width="0.28" x="108.35" y="176.4" font-size="9.2" text-anchor="middle" font-weight="bold" fill="#111" >700</text>
<text stroke="#111" stroke-width="0.28" x="144.35" y="176.4" font-size="9.2" text-anchor="middle" font-weight="bold" fill="#111" >750</text>
<text stroke="#111" stroke-width="0.28" x="180.35" y="176.4" font-size="9.2" text-anchor="middle" font-weight="bold" fill="#111" >800</text>
<text stroke="#111" stroke-width="0.28" x="216.35" y="176.4" font-size="9.2" text-anchor="middle" font-weight="bold" fill="#111" >850</text>
<text stroke="#111" stroke-width="0.28" x="127" y="187" font-size="10" text-anchor="middle" font-weight="bold" fill="#111" >Wavelength (nm)</text>
<line x1="279.5" y1="77.8" x2="282.5" y2="77.8" stroke="#161616" stroke-width="1.1" />
<line x1="279.5" y1="61.8" x2="282.5" y2="61.8" stroke="#161616" stroke-width="1.1" />
<line x1="279.5" y1="45.8" x2="282.5" y2="45.8" stroke="#161616" stroke-width="1.1" />
<line x1="279.5" y1="29.8" x2="282.5" y2="29.8" stroke="#161616" stroke-width="1.1" />
<line x1="279.5" y1="13.8" x2="282.5" y2="13.8" stroke="#161616" stroke-width="1.1" />
<line x1="279.5" y1="85.8" x2="281.3" y2="85.8" stroke="#161616" stroke-width="1.1" />
<line x1="279.5" y1="69.8" x2="281.3" y2="69.8" stroke="#161616" stroke-width="1.1" />
<line x1="279.5" y1="53.8" x2="281.3" y2="53.8" stroke="#161616" stroke-width="1.1" />
<line x1="279.5" y1="37.8" x2="281.3" y2="37.8" stroke="#161616" stroke-width="1.1" />
<line x1="279.5" y1="21.8" x2="281.3" y2="21.8" stroke="#161616" stroke-width="1.1" />
<text stroke="#111" stroke-width="0.28" x="282.7" y="81.2" font-size="9.2" text-anchor="start" font-weight="bold" fill="#111" >0.2</text>
<text stroke="#111" stroke-width="0.28" x="282.7" y="65.2" font-size="9.2" text-anchor="start" font-weight="bold" fill="#111" >0.4</text>
<text stroke="#111" stroke-width="0.28" x="282.7" y="49.2" font-size="9.2" text-anchor="start" font-weight="bold" fill="#111" >0.6</text>
<text stroke="#111" stroke-width="0.28" x="282.7" y="33.2" font-size="9.2" text-anchor="start" font-weight="bold" fill="#111" >0.8</text>
<text stroke="#111" stroke-width="0.28" x="282.7" y="17.2" font-size="9.2" text-anchor="start" font-weight="bold" fill="#111" >1.0</text>
<line x1="225.43" y1="152.62" x2="228.03" y2="152.62" stroke="#161616" stroke-width="1.1" />
<text stroke="#111" stroke-width="0.28" x="235.53" y="157.82" font-size="9.2" text-anchor="start" font-weight="bold" fill="#111" >2.5</text>
<line x1="239.04" y1="137.07" x2="241.64" y2="137.07" stroke="#161616" stroke-width="1.1" />
<text stroke="#111" stroke-width="0.28" x="249.14" y="142.27" font-size="9.2" text-anchor="start" font-weight="bold" fill="#111" >5</text>
<line x1="252.65" y1="121.52" x2="255.25" y2="121.52" stroke="#161616" stroke-width="1.1" />
<text stroke="#111" stroke-width="0.28" x="262.75" y="126.72" font-size="9.2" text-anchor="start" font-weight="bold" fill="#111" >10</text>
<line x1="266.25" y1="105.97" x2="268.85" y2="105.97" stroke="#161616" stroke-width="1.1" />
<text stroke="#111" stroke-width="0.28" x="276.35" y="111.17" font-size="9.2" text-anchor="start" font-weight="bold" fill="#111" >25</text>
<text stroke="#111" stroke-width="0.28" x="246.5" y="190.1" font-size="10" font-weight="bold" fill="#111" transform="rotate(-50.01 246.5 190.1)">Concentration (μg mL<tspan dy="-3.5" font-size="6.5">-1</tspan><tspan dy="3.5">)</tspan></text>
<text stroke="#111" stroke-width="0.28" x="120.3" y="41.6" font-size="10" text-anchor="start" font-weight="bold" fill="#111" >C5T-Pc</text>
<text stroke="#111" stroke-width="0.28" x="307.3" y="53.8" font-size="10" font-weight="bold" fill="#111" text-anchor="middle" transform="rotate(-90 307.3 53.8)">Normalized</text>
<text stroke="#111" stroke-width="0.28" x="320" y="53.6" font-size="10" font-weight="bold" fill="#111" text-anchor="middle" transform="rotate(-90 320 53.6)">Absorbance</text>
<line x1="450.8" y1="85.8" x2="630.8" y2="85.8" stroke="#eeeeee" stroke-width="0.6" />
<line x1="450.8" y1="69.8" x2="630.8" y2="69.8" stroke="#eeeeee" stroke-width="0.6" />
<line x1="450.8" y1="53.8" x2="630.8" y2="53.8" stroke="#eeeeee" stroke-width="0.6" />
<line x1="450.8" y1="37.8" x2="630.8" y2="37.8" stroke="#eeeeee" stroke-width="0.6" />
<line x1="450.8" y1="21.8" x2="630.8" y2="21.8" stroke="#eeeeee" stroke-width="0.6" />
<line x1="450.8" y1="77.8" x2="630.8" y2="77.8" stroke="#cdcdcd" stroke-width="0.6" />
<line x1="450.8" y1="61.8" x2="630.8" y2="61.8" stroke="#cdcdcd" stroke-width="0.6" />
<line x1="450.8" y1="45.8" x2="630.8" y2="45.8" stroke="#cdcdcd" stroke-width="0.6" />
<line x1="450.8" y1="29.8" x2="630.8" y2="29.8" stroke="#e3e3e3" stroke-width="0.6" />
<line x1="468.8" y1="93.8" x2="468.8" y2="13.8" stroke="#f0f0f0" stroke-width="0.6" />
<line x1="504.8" y1="93.8" x2="504.8" y2="13.8" stroke="#f0f0f0" stroke-width="0.6" />
<line x1="540.8" y1="93.8" x2="540.8" y2="13.8" stroke="#f0f0f0" stroke-width="0.6" />
<line x1="576.8" y1="93.8" x2="576.8" y2="13.8" stroke="#f0f0f0" stroke-width="0.6" />
<line x1="612.8" y1="93.8" x2="612.8" y2="13.8" stroke="#f0f0f0" stroke-width="0.6" />
<line x1="486.8" y1="93.8" x2="486.8" y2="13.8" stroke="#d2d2d2" stroke-width="0.6" />
<line x1="522.8" y1="93.8" x2="522.8" y2="13.8" stroke="#d2d2d2" stroke-width="0.6" />
<line x1="558.8" y1="93.8" x2="558.8" y2="13.8" stroke="#d2d2d2" stroke-width="0.6" />
<line x1="594.8" y1="93.8" x2="594.8" y2="13.8" stroke="#d2d2d2" stroke-width="0.6" />
<line x1="387.8" y1="157.8" x2="450.8" y2="85.8" stroke="#eeeeee" stroke-width="0.6" />
<line x1="387.8" y1="141.8" x2="450.8" y2="69.8" stroke="#eeeeee" stroke-width="0.6" />
<line x1="387.8" y1="125.8" x2="450.8" y2="53.8" stroke="#eeeeee" stroke-width="0.6" />
<line x1="387.8" y1="109.8" x2="450.8" y2="37.8" stroke="#eeeeee" stroke-width="0.6" />
<line x1="387.8" y1="93.8" x2="450.8" y2="21.8" stroke="#eeeeee" stroke-width="0.6" />
<line x1="387.8" y1="149.8" x2="450.8" y2="77.8" stroke="#c8c8c8" stroke-width="0.6" />
<line x1="387.8" y1="133.8" x2="450.8" y2="61.8" stroke="#c8c8c8" stroke-width="0.6" />
<line x1="387.8" y1="117.8" x2="450.8" y2="45.8" stroke="#c8c8c8" stroke-width="0.6" />
<line x1="387.8" y1="101.8" x2="450.8" y2="29.8" stroke="#c8c8c8" stroke-width="0.6" />
<line x1="398.82" y1="153.2" x2="398.82" y2="73.2" stroke="#d0d0d0" stroke-width="0.6" />
<line x1="439.77" y1="106.4" x2="439.77" y2="26.4" stroke="#d0d0d0" stroke-width="0.6" />
<line x1="387.8" y1="165.8" x2="450.8" y2="93.8" stroke="#cfcfcf" stroke-width="0.6" />
<line x1="450.8" y1="93.8" x2="630.8" y2="93.8" stroke="#d6d6d6" stroke-width="0.6" />
<line x1="399.33" y1="152.62" x2="579.33" y2="152.62" stroke="#e8e8e8" stroke-width="1.0" />
<line x1="412.94" y1="137.07" x2="592.94" y2="137.07" stroke="#e8e8e8" stroke-width="1.0" />
<line x1="426.55" y1="121.52" x2="606.54" y2="121.52" stroke="#e8e8e8" stroke-width="1.0" />
<line x1="440.15" y1="105.97" x2="620.15" y2="105.97" stroke="#e8e8e8" stroke-width="1.0" />
<line x1="423.8" y1="165.8" x2="486.8" y2="93.8" stroke="#d0d0d0" stroke-width="0.6" />
<line x1="459.8" y1="165.8" x2="522.8" y2="93.8" stroke="#d0d0d0" stroke-width="0.6" />
<line x1="495.8" y1="165.8" x2="558.8" y2="93.8" stroke="#d0d0d0" stroke-width="0.6" />
<line x1="531.8" y1="165.8" x2="594.8" y2="93.8" stroke="#d0d0d0" stroke-width="0.6" />
<line x1="567.8" y1="165.8" x2="630.8" y2="93.8" stroke="#d0d0d0" stroke-width="0.6" />
<path d="M438.71,104.45 L448.79,104.06 L461.75,103.23 L468.95,102.57 L476.15,101.65 L479.03,101.09 L481.91,100.33 L491.99,97.20 L499.19,94.76 L502.07,93.96 L504.95,93.39 L509.27,92.78 L513.59,92.31 L517.91,92.00 L520.79,91.65 L522.23,91.22 L523.67,90.49 L525.11,89.54 L526.55,88.45 L527.99,87.11 L529.43,85.37 L530.87,83.31 L532.31,80.99 L535.19,75.77 L536.63,72.58 L539.51,65.02 L543.83,52.37 L548.15,38.23 L549.59,34.72 L551.03,31.78 L552.47,29.57 L553.91,27.82 L555.35,26.43 L556.79,25.98 L558.23,26.74 L559.67,28.27 L561.11,30.37 L562.55,33.95 L563.99,38.15 L571.19,63.10 L575.51,79.04 L576.95,83.63 L578.39,87.78 L579.83,91.35 L581.27,93.95 L582.71,95.88 L584.87,98.15 L586.31,99.33 L587.75,100.30 L589.91,101.51 L590.63,101.81 L593.51,102.56 L595.67,103.28 L597.11,103.40 L598.55,103.72 L600.71,103.89 L602.87,104.26 L604.31,104.22 L609.35,104.68 L612.95,104.34 L617.27,104.55 L619.43,104.54 L619.43,105.97 L438.71,105.97Z" fill="#fff" fill-opacity="0.45" stroke="none"/>
<path d="M438.71,104.45 L448.79,104.06 L461.75,103.23 L468.95,102.57 L476.15,101.65 L479.03,101.09 L481.91,100.33 L491.99,97.20 L499.19,94.76 L502.07,93.96 L504.95,93.39 L509.27,92.78 L513.59,92.31 L517.91,92.00 L520.79,91.65 L522.23,91.22 L523.67,90.49 L525.11,89.54 L526.55,88.45 L527.99,87.11 L529.43,85.37 L530.87,83.31 L532.31,80.99 L535.19,75.77 L536.63,72.58 L539.51,65.02 L543.83,52.37 L548.15,38.23 L549.59,34.72 L551.03,31.78 L552.47,29.57 L553.91,27.82 L555.35,26.43 L556.79,25.98 L558.23,26.74 L559.67,28.27 L561.11,30.37 L562.55,33.95 L563.99,38.15 L571.19,63.10 L575.51,79.04 L576.95,83.63 L578.39,87.78 L579.83,91.35 L581.27,93.95 L582.71,95.88 L584.87,98.15 L586.31,99.33 L587.75,100.30 L589.91,101.51 L590.63,101.81 L593.51,102.56 L595.67,103.28 L597.11,103.40 L598.55,103.72 L600.71,103.89 L602.87,104.26 L604.31,104.22 L609.35,104.68 L612.95,104.34 L617.27,104.55 L619.43,104.54 L619.43,105.97 L438.71,105.97Z" fill="url(#g5)" stroke="none"/>
<path d="M438.71,104.45 L448.79,104.06 L461.75,103.23 L468.95,102.57 L476.15,101.65 L479.03,101.09 L481.91,100.33 L491.99,97.20 L499.19,94.76 L502.07,93.96 L504.95,93.39 L509.27,92.78 L513.59,92.31 L517.91,92.00 L520.79,91.65 L522.23,91.22 L523.67,90.49 L525.11,89.54 L526.55,88.45 L527.99,87.11 L529.43,85.37 L530.87,83.31 L532.31,80.99 L535.19,75.77 L536.63,72.58 L539.51,65.02 L543.83,52.37 L548.15,38.23 L549.59,34.72 L551.03,31.78 L552.47,29.57 L553.91,27.82 L555.35,26.43 L556.79,25.98 L558.23,26.74 L559.67,28.27 L561.11,30.37 L562.55,33.95 L563.99,38.15 L571.19,63.10 L575.51,79.04 L576.95,83.63 L578.39,87.78 L579.83,91.35 L581.27,93.95 L582.71,95.88 L584.87,98.15 L586.31,99.33 L587.75,100.30 L589.91,101.51 L590.63,101.81 L593.51,102.56 L595.67,103.28 L597.11,103.40 L598.55,103.72 L600.71,103.89 L602.87,104.26 L604.31,104.22 L609.35,104.68 L612.95,104.34 L617.27,104.55 L619.43,104.54" fill="none" stroke="#3aa862" stroke-width="0.9" stroke-linejoin="round"/>
<path d="M425.11,119.60 L435.19,119.21 L448.15,118.38 L455.35,117.73 L462.55,116.80 L465.43,116.24 L468.31,115.48 L478.38,112.36 L485.59,109.91 L488.47,109.11 L491.35,108.55 L495.67,107.93 L499.99,107.46 L504.31,107.15 L507.19,106.80 L508.62,106.37 L510.07,105.64 L512.94,103.60 L514.38,102.29 L515.83,100.62 L517.26,98.65 L518.71,96.42 L521.59,91.35 L523.02,88.19 L524.47,84.57 L525.90,80.62 L530.23,67.92 L534.54,53.78 L535.99,50.28 L537.42,47.33 L538.87,45.12 L540.30,43.37 L541.75,41.98 L543.18,41.53 L544.62,42.29 L546.07,43.82 L547.50,45.92 L548.95,49.50 L550.38,53.70 L557.59,78.66 L561.91,94.59 L563.35,99.18 L564.78,103.33 L566.23,106.90 L567.67,109.50 L569.11,111.43 L571.26,113.70 L572.71,114.88 L574.14,115.85 L574.87,116.09 L577.02,117.29 L578.47,117.95 L579.90,118.31 L580.62,118.38 L582.07,118.79 L584.95,119.20 L586.38,119.65 L587.83,119.86 L588.54,119.66 L589.99,119.70 L590.71,119.82 L592.87,119.67 L595.02,119.98 L597.19,119.98 L599.35,120.49 L600.06,120.44 L601.50,119.97 L602.23,120.03 L602.95,120.28 L603.67,120.32 L605.11,120.19 L605.83,120.26 L605.83,121.52 L425.11,121.52Z" fill="#fff" fill-opacity="0.45" stroke="none"/>
<path d="M425.11,119.60 L435.19,119.21 L448.15,118.38 L455.35,117.73 L462.55,116.80 L465.43,116.24 L468.31,115.48 L478.38,112.36 L485.59,109.91 L488.47,109.11 L491.35,108.55 L495.67,107.93 L499.99,107.46 L504.31,107.15 L507.19,106.80 L508.62,106.37 L510.07,105.64 L512.94,103.60 L514.38,102.29 L515.83,100.62 L517.26,98.65 L518.71,96.42 L521.59,91.35 L523.02,88.19 L524.47,84.57 L525.90,80.62 L530.23,67.92 L534.54,53.78 L535.99,50.28 L537.42,47.33 L538.87,45.12 L540.30,43.37 L541.75,41.98 L543.18,41.53 L544.62,42.29 L546.07,43.82 L547.50,45.92 L548.95,49.50 L550.38,53.70 L557.59,78.66 L561.91,94.59 L563.35,99.18 L564.78,103.33 L566.23,106.90 L567.67,109.50 L569.11,111.43 L571.26,113.70 L572.71,114.88 L574.14,115.85 L574.87,116.09 L577.02,117.29 L578.47,117.95 L579.90,118.31 L580.62,118.38 L582.07,118.79 L584.95,119.20 L586.38,119.65 L587.83,119.86 L588.54,119.66 L589.99,119.70 L590.71,119.82 L592.87,119.67 L595.02,119.98 L597.19,119.98 L599.35,120.49 L600.06,120.44 L601.50,119.97 L602.23,120.03 L602.95,120.28 L603.67,120.32 L605.11,120.19 L605.83,120.26 L605.83,121.52 L425.11,121.52Z" fill="url(#g6)" stroke="none"/>
<path d="M425.11,119.60 L435.19,119.21 L448.15,118.38 L455.35,117.73 L462.55,116.80 L465.43,116.24 L468.31,115.48 L478.38,112.36 L485.59,109.91 L488.47,109.11 L491.35,108.55 L495.67,107.93 L499.99,107.46 L504.31,107.15 L507.19,106.80 L508.62,106.37 L510.07,105.64 L512.94,103.60 L514.38,102.29 L515.83,100.62 L517.26,98.65 L518.71,96.42 L521.59,91.35 L523.02,88.19 L524.47,84.57 L525.90,80.62 L530.23,67.92 L534.54,53.78 L535.99,50.28 L537.42,47.33 L538.87,45.12 L540.30,43.37 L541.75,41.98 L543.18,41.53 L544.62,42.29 L546.07,43.82 L547.50,45.92 L548.95,49.50 L550.38,53.70 L557.59,78.66 L561.91,94.59 L563.35,99.18 L564.78,103.33 L566.23,106.90 L567.67,109.50 L569.11,111.43 L571.26,113.70 L572.71,114.88 L574.14,115.85 L574.87,116.09 L577.02,117.29 L578.47,117.95 L579.90,118.31 L580.62,118.38 L582.07,118.79 L584.95,119.20 L586.38,119.65 L587.83,119.86 L588.54,119.66 L589.99,119.70 L590.71,119.82 L592.87,119.67 L595.02,119.98 L597.19,119.98 L599.35,120.49 L600.06,120.44 L601.50,119.97 L602.23,120.03 L602.95,120.28 L603.67,120.32 L605.11,120.19 L605.83,120.26" fill="none" stroke="#2b6fd8" stroke-width="0.9" stroke-linejoin="round"/>
<path d="M411.50,135.63 L421.58,135.24 L434.54,134.41 L441.74,133.76 L448.94,132.83 L451.82,132.27 L454.70,131.51 L464.78,128.39 L471.98,125.95 L474.86,125.14 L477.74,124.58 L482.06,123.97 L486.38,123.49 L490.70,123.18 L493.58,122.83 L495.02,122.41 L496.46,121.68 L497.90,120.72 L499.34,119.63 L500.78,118.28 L502.22,116.54 L503.66,114.46 L505.10,112.12 L507.98,106.87 L509.42,103.68 L512.30,96.11 L516.62,83.47 L520.94,69.34 L522.38,65.83 L523.82,62.88 L525.26,60.67 L526.70,58.92 L528.14,57.53 L529.58,57.09 L531.02,57.84 L532.46,59.37 L533.90,61.47 L535.34,65.05 L536.78,69.25 L543.98,94.21 L548.30,110.14 L549.74,114.73 L551.18,118.87 L552.62,122.44 L554.06,125.07 L555.50,127.06 L557.66,129.40 L559.10,130.61 L561.26,132.17 L561.98,132.27 L562.70,132.56 L563.42,133.00 L564.14,133.76 L564.86,134.08 L566.30,133.91 L567.02,133.99 L568.46,134.73 L569.90,134.95 L570.62,134.81 L571.34,135.19 L572.06,135.27 L572.78,135.52 L573.50,135.32 L574.94,135.55 L575.66,135.78 L576.38,135.60 L577.82,135.64 L578.54,135.97 L579.26,136.14 L579.98,135.89 L582.14,136.14 L582.86,135.78 L583.58,135.71 L585.02,135.78 L585.74,135.65 L586.46,135.76 L587.18,135.66 L587.90,135.77 L588.62,135.59 L589.34,135.95 L590.06,135.86 L590.78,136.23 L592.22,136.40 L592.22,137.07 L411.50,137.07Z" fill="#fff" fill-opacity="0.45" stroke="none"/>
<path d="M411.50,135.63 L421.58,135.24 L434.54,134.41 L441.74,133.76 L448.94,132.83 L451.82,132.27 L454.70,131.51 L464.78,128.39 L471.98,125.95 L474.86,125.14 L477.74,124.58 L482.06,123.97 L486.38,123.49 L490.70,123.18 L493.58,122.83 L495.02,122.41 L496.46,121.68 L497.90,120.72 L499.34,119.63 L500.78,118.28 L502.22,116.54 L503.66,114.46 L505.10,112.12 L507.98,106.87 L509.42,103.68 L512.30,96.11 L516.62,83.47 L520.94,69.34 L522.38,65.83 L523.82,62.88 L525.26,60.67 L526.70,58.92 L528.14,57.53 L529.58,57.09 L531.02,57.84 L532.46,59.37 L533.90,61.47 L535.34,65.05 L536.78,69.25 L543.98,94.21 L548.30,110.14 L549.74,114.73 L551.18,118.87 L552.62,122.44 L554.06,125.07 L555.50,127.06 L557.66,129.40 L559.10,130.61 L561.26,132.17 L561.98,132.27 L562.70,132.56 L563.42,133.00 L564.14,133.76 L564.86,134.08 L566.30,133.91 L567.02,133.99 L568.46,134.73 L569.90,134.95 L570.62,134.81 L571.34,135.19 L572.06,135.27 L572.78,135.52 L573.50,135.32 L574.94,135.55 L575.66,135.78 L576.38,135.60 L577.82,135.64 L578.54,135.97 L579.26,136.14 L579.98,135.89 L582.14,136.14 L582.86,135.78 L583.58,135.71 L585.02,135.78 L585.74,135.65 L586.46,135.76 L587.18,135.66 L587.90,135.77 L588.62,135.59 L589.34,135.95 L590.06,135.86 L590.78,136.23 L592.22,136.40 L592.22,137.07 L411.50,137.07Z" fill="url(#g7)" stroke="none"/>
<path d="M411.50,135.63 L421.58,135.24 L434.54,134.41 L441.74,133.76 L448.94,132.83 L451.82,132.27 L454.70,131.51 L464.78,128.39 L471.98,125.95 L474.86,125.14 L477.74,124.58 L482.06,123.97 L486.38,123.49 L490.70,123.18 L493.58,122.83 L495.02,122.41 L496.46,121.68 L497.90,120.72 L499.34,119.63 L500.78,118.28 L502.22,116.54 L503.66,114.46 L505.10,112.12 L507.98,106.87 L509.42,103.68 L512.30,96.11 L516.62,83.47 L520.94,69.34 L522.38,65.83 L523.82,62.88 L525.26,60.67 L526.70,58.92 L528.14,57.53 L529.58,57.09 L531.02,57.84 L532.46,59.37 L533.90,61.47 L535.34,65.05 L536.78,69.25 L543.98,94.21 L548.30,110.14 L549.74,114.73 L551.18,118.87 L552.62,122.44 L554.06,125.07 L555.50,127.06 L557.66,129.40 L559.10,130.61 L561.26,132.17 L561.98,132.27 L562.70,132.56 L563.42,133.00 L564.14,133.76 L564.86,134.08 L566.30,133.91 L567.02,133.99 L568.46,134.73 L569.90,134.95 L570.62,134.81 L571.34,135.19 L572.06,135.27 L572.78,135.52 L573.50,135.32 L574.94,135.55 L575.66,135.78 L576.38,135.60 L577.82,135.64 L578.54,135.97 L579.26,136.14 L579.98,135.89 L582.14,136.14 L582.86,135.78 L583.58,135.71 L585.02,135.78 L585.74,135.65 L586.46,135.76 L587.18,135.66 L587.90,135.77 L588.62,135.59 L589.34,135.95 L590.06,135.86 L590.78,136.23 L592.22,136.40" fill="none" stroke="#ee3b3b" stroke-width="0.9" stroke-linejoin="round"/>
<path d="M397.89,151.02 L407.97,150.63 L420.93,149.81 L428.13,149.15 L435.33,148.22 L438.21,147.66 L441.09,146.91 L451.17,143.78 L458.37,141.34 L461.25,140.53 L464.13,139.97 L468.45,139.36 L472.77,138.89 L477.09,138.57 L479.97,138.22 L481.41,137.80 L482.85,137.07 L484.29,136.11 L485.73,135.02 L487.17,133.69 L488.61,131.97 L490.05,129.93 L491.49,127.62 L494.37,122.43 L495.81,119.25 L498.69,111.68 L503.01,99.02 L507.33,84.89 L508.77,81.38 L510.21,78.44 L511.65,76.22 L513.09,74.47 L514.53,73.08 L515.97,72.64 L517.41,73.39 L518.85,74.93 L520.29,77.02 L521.73,80.61 L523.17,84.81 L530.37,109.76 L534.69,125.69 L536.13,130.28 L537.57,134.39 L539.01,137.96 L540.45,140.68 L541.89,142.78 L544.05,145.24 L545.49,146.52 L547.65,148.17 L548.37,148.26 L549.09,149.06 L549.81,149.11 L550.53,149.97 L551.25,149.99 L551.97,150.18 L552.69,149.88 L553.41,149.96 L554.13,150.76 L554.85,150.64 L555.57,151.08 L556.29,150.95 L557.01,151.31 L558.45,151.36 L559.17,151.74 L559.89,151.75 L560.61,152.00 L562.77,151.59 L563.49,151.62 L564.93,152.18 L565.65,152.23 L566.37,152.00 L567.81,151.84 L569.25,152.18 L569.97,152.12 L570.69,152.32 L572.13,152.07 L573.57,152.13 L574.29,152.73 L575.01,152.63 L575.73,152.92 L576.45,152.69 L577.17,152.70 L577.89,152.39 L578.61,152.32 L578.61,152.62 L397.89,152.62Z" fill="#fff" fill-opacity="0.45" stroke="none"/>
<path d="M397.89,151.02 L407.97,150.63 L420.93,149.81 L428.13,149.15 L435.33,148.22 L438.21,147.66 L441.09,146.91 L451.17,143.78 L458.37,141.34 L461.25,140.53 L464.13,139.97 L468.45,139.36 L472.77,138.89 L477.09,138.57 L479.97,138.22 L481.41,137.80 L482.85,137.07 L484.29,136.11 L485.73,135.02 L487.17,133.69 L488.61,131.97 L490.05,129.93 L491.49,127.62 L494.37,122.43 L495.81,119.25 L498.69,111.68 L503.01,99.02 L507.33,84.89 L508.77,81.38 L510.21,78.44 L511.65,76.22 L513.09,74.47 L514.53,73.08 L515.97,72.64 L517.41,73.39 L518.85,74.93 L520.29,77.02 L521.73,80.61 L523.17,84.81 L530.37,109.76 L534.69,125.69 L536.13,130.28 L537.57,134.39 L539.01,137.96 L540.45,140.68 L541.89,142.78 L544.05,145.24 L545.49,146.52 L547.65,148.17 L548.37,148.26 L549.09,149.06 L549.81,149.11 L550.53,149.97 L551.25,149.99 L551.97,150.18 L552.69,149.88 L553.41,149.96 L554.13,150.76 L554.85,150.64 L555.57,151.08 L556.29,150.95 L557.01,151.31 L558.45,151.36 L559.17,151.74 L559.89,151.75 L560.61,152.00 L562.77,151.59 L563.49,151.62 L564.93,152.18 L565.65,152.23 L566.37,152.00 L567.81,151.84 L569.25,152.18 L569.97,152.12 L570.69,152.32 L572.13,152.07 L573.57,152.13 L574.29,152.73 L575.01,152.63 L575.73,152.92 L576.45,152.69 L577.17,152.70 L577.89,152.39 L578.61,152.32 L578.61,152.62 L397.89,152.62Z" fill="url(#g8)" stroke="none"/>
<path d="M397.89,151.02 L407.97,150.63 L420.93,149.81 L428.13,149.15 L435.33,148.22 L438.21,147.66 L441.09,146.91 L451.17,143.78 L458.37,141.34 L461.25,140.53 L464.13,139.97 L468.45,139.36 L472.77,138.89 L477.09,138.57 L479.97,138.22 L481.41,137.80 L482.85,137.07 L484.29,136.11 L485.73,135.02 L487.17,133.69 L488.61,131.97 L490.05,129.93 L491.49,127.62 L494.37,122.43 L495.81,119.25 L498.69,111.68 L503.01,99.02 L507.33,84.89 L508.77,81.38 L510.21,78.44 L511.65,76.22 L513.09,74.47 L514.53,73.08 L515.97,72.64 L517.41,73.39 L518.85,74.93 L520.29,77.02 L521.73,80.61 L523.17,84.81 L530.37,109.76 L534.69,125.69 L536.13,130.28 L537.57,134.39 L539.01,137.96 L540.45,140.68 L541.89,142.78 L544.05,145.24 L545.49,146.52 L547.65,148.17 L548.37,148.26 L549.09,149.06 L549.81,149.11 L550.53,149.97 L551.25,149.99 L551.97,150.18 L552.69,149.88 L553.41,149.96 L554.13,150.76 L554.85,150.64 L555.57,151.08 L556.29,150.95 L557.01,151.31 L558.45,151.36 L559.17,151.74 L559.89,151.75 L560.61,152.00 L562.77,151.59 L563.49,151.62 L564.93,152.18 L565.65,152.23 L566.37,152.00 L567.81,151.84 L569.25,152.18 L569.97,152.12 L570.69,152.32 L572.13,152.07 L573.57,152.13 L574.29,152.73 L575.01,152.63 L575.73,152.92 L576.45,152.69 L577.17,152.70 L577.89,152.39 L578.61,152.32" fill="none" stroke="#484848" stroke-width="0.9" stroke-linejoin="round"/>
<path d="M450.80,13.80 L630.80,13.80 L630.80,93.80 L567.80,165.80 L387.80,165.80 L387.80,85.80Z" fill="none" stroke="#161616" stroke-width="1.4" stroke-linejoin="miter"/>
<line x1="387.8" y1="165.8" x2="387.8" y2="168.8" stroke="#161616" stroke-width="1.1" />
<line x1="423.8" y1="165.8" x2="423.8" y2="168.8" stroke="#161616" stroke-width="1.1" />
<line x1="459.8" y1="165.8" x2="459.8" y2="168.8" stroke="#161616" stroke-width="1.1" />
<line x1="495.8" y1="165.8" x2="495.8" y2="168.8" stroke="#161616" stroke-width="1.1" />
<line x1="531.8" y1="165.8" x2="531.8" y2="168.8" stroke="#161616" stroke-width="1.1" />
<line x1="567.8" y1="165.8" x2="567.8" y2="168.8" stroke="#161616" stroke-width="1.1" />
<line x1="405.8" y1="165.8" x2="405.8" y2="167.6" stroke="#161616" stroke-width="1.1" />
<line x1="441.8" y1="165.8" x2="441.8" y2="167.6" stroke="#161616" stroke-width="1.1" />
<line x1="477.8" y1="165.8" x2="477.8" y2="167.6" stroke="#161616" stroke-width="1.1" />
<line x1="513.8" y1="165.8" x2="513.8" y2="167.6" stroke="#161616" stroke-width="1.1" />
<line x1="549.8" y1="165.8" x2="549.8" y2="167.6" stroke="#161616" stroke-width="1.1" />
<text stroke="#111" stroke-width="0.28" x="387.65" y="176.4" font-size="9.2" text-anchor="middle" font-weight="bold" fill="#111" >600</text>
<text stroke="#111" stroke-width="0.28" x="423.65" y="176.4" font-size="9.2" text-anchor="middle" font-weight="bold" fill="#111" >650</text>
<text stroke="#111" stroke-width="0.28" x="459.65" y="176.4" font-size="9.2" text-anchor="middle" font-weight="bold" fill="#111" >700</text>
<text stroke="#111" stroke-width="0.28" x="495.65" y="176.4" font-size="9.2" text-anchor="middle" font-weight="bold" fill="#111" >750</text>
<text stroke="#111" stroke-width="0.28" x="531.65" y="176.4" font-size="9.2" text-anchor="middle" font-weight="bold" fill="#111" >800</text>
<text stroke="#111" stroke-width="0.28" x="567.65" y="176.4" font-size="9.2" text-anchor="middle" font-weight="bold" fill="#111" >850</text>
<text stroke="#111" stroke-width="0.28" x="478.3" y="187" font-size="10" text-anchor="middle" font-weight="bold" fill="#111" >Wavelength (nm)</text>
<line x1="630.8" y1="77.8" x2="633.8" y2="77.8" stroke="#161616" stroke-width="1.1" />
<line x1="630.8" y1="61.8" x2="633.8" y2="61.8" stroke="#161616" stroke-width="1.1" />
<line x1="630.8" y1="45.8" x2="633.8" y2="45.8" stroke="#161616" stroke-width="1.1" />
<line x1="630.8" y1="29.8" x2="633.8" y2="29.8" stroke="#161616" stroke-width="1.1" />
<line x1="630.8" y1="13.8" x2="633.8" y2="13.8" stroke="#161616" stroke-width="1.1" />
<line x1="630.8" y1="85.8" x2="632.6" y2="85.8" stroke="#161616" stroke-width="1.1" />
<line x1="630.8" y1="69.8" x2="632.6" y2="69.8" stroke="#161616" stroke-width="1.1" />
<line x1="630.8" y1="53.8" x2="632.6" y2="53.8" stroke="#161616" stroke-width="1.1" />
<line x1="630.8" y1="37.8" x2="632.6" y2="37.8" stroke="#161616" stroke-width="1.1" />
<line x1="630.8" y1="21.8" x2="632.6" y2="21.8" stroke="#161616" stroke-width="1.1" />
<text stroke="#111" stroke-width="0.28" x="634" y="97.2" font-size="9.2" text-anchor="start" font-weight="bold" fill="#111" >0.0</text>
<text stroke="#111" stroke-width="0.28" x="634" y="81.2" font-size="9.2" text-anchor="start" font-weight="bold" fill="#111" >0.2</text>
<text stroke="#111" stroke-width="0.28" x="634" y="65.2" font-size="9.2" text-anchor="start" font-weight="bold" fill="#111" >0.4</text>
<text stroke="#111" stroke-width="0.28" x="634" y="49.2" font-size="9.2" text-anchor="start" font-weight="bold" fill="#111" >0.6</text>
<text stroke="#111" stroke-width="0.28" x="634" y="33.2" font-size="9.2" text-anchor="start" font-weight="bold" fill="#111" >0.8</text>
<text stroke="#111" stroke-width="0.28" x="634" y="17.2" font-size="9.2" text-anchor="start" font-weight="bold" fill="#111" >1.0</text>
<line x1="576.73" y1="152.62" x2="579.33" y2="152.62" stroke="#161616" stroke-width="1.1" />
<text stroke="#111" stroke-width="0.28" x="586.83" y="157.82" font-size="9.2" text-anchor="start" font-weight="bold" fill="#111" >2.5</text>
<line x1="590.34" y1="137.07" x2="592.94" y2="137.07" stroke="#161616" stroke-width="1.1" />
<text stroke="#111" stroke-width="0.28" x="600.44" y="142.27" font-size="9.2" text-anchor="start" font-weight="bold" fill="#111" >5.0</text>
<line x1="603.94" y1="121.52" x2="606.54" y2="121.52" stroke="#161616" stroke-width="1.1" />
<text stroke="#111" stroke-width="0.28" x="614.04" y="126.72" font-size="9.2" text-anchor="start" font-weight="bold" fill="#111" >10</text>
<line x1="617.55" y1="105.97" x2="620.15" y2="105.97" stroke="#161616" stroke-width="1.1" />
<text stroke="#111" stroke-width="0.28" x="627.65" y="111.17" font-size="9.2" text-anchor="start" font-weight="bold" fill="#111" >25</text>
<text stroke="#111" stroke-width="0.28" x="597.8" y="190.1" font-size="10" font-weight="bold" fill="#111" transform="rotate(-50.01 597.8 190.1)">Concentration (μg mL<tspan dy="-3.5" font-size="6.5">-1</tspan><tspan dy="3.5">)</tspan></text>
<text stroke="#111" stroke-width="0.28" x="471.8" y="41.6" font-size="10" text-anchor="start" font-weight="bold" fill="#111" >C5T-Pco</text>
<text stroke="#111" stroke-width="0.28" x="658.6" y="53.8" font-size="10" font-weight="bold" fill="#111" text-anchor="middle" transform="rotate(-90 658.6 53.8)">Normalized</text>
<text stroke="#111" stroke-width="0.28" x="671.3" y="53.6" font-size="10" font-weight="bold" fill="#111" text-anchor="middle" transform="rotate(-90 671.3 53.6)">Absorbance</text>
<line x1="99.6" y1="278.53" x2="279.6" y2="278.53" stroke="#f4f4f4" stroke-width="0.6" />
<line x1="99.6" y1="256" x2="279.6" y2="256" stroke="#f4f4f4" stroke-width="0.6" />
<line x1="99.6" y1="233.46" x2="279.6" y2="233.46" stroke="#f4f4f4" stroke-width="0.6" />
<line x1="99.6" y1="210.93" x2="279.6" y2="210.93" stroke="#f4f4f4" stroke-width="0.6" />
<line x1="99.6" y1="267.26" x2="279.6" y2="267.26" stroke="#cdcdcd" stroke-width="0.6" />
<line x1="99.6" y1="244.73" x2="279.6" y2="244.73" stroke="#cdcdcd" stroke-width="0.6" />
<line x1="99.6" y1="222.19" x2="279.6" y2="222.19" stroke="#cdcdcd" stroke-width="0.6" />
<line x1="122.1" y1="289.8" x2="122.1" y2="209.8" stroke="#f0f0f0" stroke-width="0.6" />
<line x1="167.1" y1="289.8" x2="167.1" y2="209.8" stroke="#f0f0f0" stroke-width="0.6" />
<line x1="212.1" y1="289.8" x2="212.1" y2="209.8" stroke="#f0f0f0" stroke-width="0.6" />
<line x1="257.1" y1="289.8" x2="257.1" y2="209.8" stroke="#f0f0f0" stroke-width="0.6" />
<line x1="144.6" y1="289.8" x2="144.6" y2="209.8" stroke="#d2d2d2" stroke-width="0.6" />
<line x1="189.6" y1="289.8" x2="189.6" y2="209.8" stroke="#d2d2d2" stroke-width="0.6" />
<line x1="234.6" y1="289.8" x2="234.6" y2="209.8" stroke="#d2d2d2" stroke-width="0.6" />
<line x1="36.6" y1="350.53" x2="99.6" y2="278.53" stroke="#f4f4f4" stroke-width="0.6" />
<line x1="36.6" y1="328" x2="99.6" y2="256" stroke="#f4f4f4" stroke-width="0.6" />
<line x1="36.6" y1="305.46" x2="99.6" y2="233.46" stroke="#f4f4f4" stroke-width="0.6" />
<line x1="36.6" y1="282.93" x2="99.6" y2="210.93" stroke="#f4f4f4" stroke-width="0.6" />
<line x1="36.6" y1="339.26" x2="99.6" y2="267.26" stroke="#c8c8c8" stroke-width="0.6" />
<line x1="36.6" y1="316.73" x2="99.6" y2="244.73" stroke="#c8c8c8" stroke-width="0.6" />
<line x1="36.6" y1="294.19" x2="99.6" y2="222.19" stroke="#c8c8c8" stroke-width="0.6" />
<line x1="42.05" y1="355.57" x2="42.05" y2="275.57" stroke="#d0d0d0" stroke-width="0.6" />
<line x1="49.45" y1="347.11" x2="49.45" y2="267.11" stroke="#d0d0d0" stroke-width="0.6" />
<line x1="64.26" y1="330.19" x2="64.26" y2="250.19" stroke="#d0d0d0" stroke-width="0.6" />
<line x1="71.66" y1="321.73" x2="71.66" y2="241.73" stroke="#d0d0d0" stroke-width="0.6" />
<line x1="86.46" y1="304.81" x2="86.46" y2="224.81" stroke="#d0d0d0" stroke-width="0.6" />
<line x1="93.87" y1="296.35" x2="93.87" y2="216.35" stroke="#d0d0d0" stroke-width="0.6" />
<line x1="36.6" y1="361.8" x2="99.6" y2="289.8" stroke="#cfcfcf" stroke-width="0.6" />
<line x1="99.6" y1="289.8" x2="279.6" y2="289.8" stroke="#d6d6d6" stroke-width="0.6" />
<line x1="42.05" y1="355.57" x2="222.05" y2="355.57" stroke="#e8e8e8" stroke-width="1.0" />
<line x1="49.45" y1="347.11" x2="229.45" y2="347.11" stroke="#e8e8e8" stroke-width="1.0" />
<line x1="56.85" y1="338.65" x2="236.85" y2="338.65" stroke="#e8e8e8" stroke-width="1.0" />
<line x1="64.26" y1="330.19" x2="244.26" y2="330.19" stroke="#e8e8e8" stroke-width="1.0" />
<line x1="71.66" y1="321.73" x2="251.66" y2="321.73" stroke="#e8e8e8" stroke-width="1.0" />
<line x1="79.06" y1="313.27" x2="259.06" y2="313.27" stroke="#e8e8e8" stroke-width="1.0" />
<line x1="86.46" y1="304.81" x2="266.46" y2="304.81" stroke="#e8e8e8" stroke-width="1.0" />
<line x1="93.87" y1="296.35" x2="273.87" y2="296.35" stroke="#e8e8e8" stroke-width="1.0" />
<line x1="81.6" y1="361.8" x2="144.6" y2="289.8" stroke="#d0d0d0" stroke-width="0.6" />
<line x1="126.6" y1="361.8" x2="189.6" y2="289.8" stroke="#d0d0d0" stroke-width="0.6" />
<line x1="171.6" y1="361.8" x2="234.6" y2="289.8" stroke="#d0d0d0" stroke-width="0.6" />
<line x1="216.6" y1="361.8" x2="279.6" y2="289.8" stroke="#d0d0d0" stroke-width="0.6" />
<path d="M102.87,296.35 L273.87,296.35" fill="none" stroke="#8a4e4e" stroke-width="0.9" stroke-linejoin="round"/>
<path d="M95.46,304.81 L156.66,304.79 L162.06,304.68 L167.46,304.32 L171.06,303.75 L172.86,303.31 L174.66,302.74 L176.46,302.03 L178.26,301.18 L180.06,300.18 L181.86,299.05 L187.26,295.32 L189.06,294.16 L190.86,293.16 L192.66,292.39 L194.46,291.91 L196.26,291.74 L198.06,291.82 L199.86,292.05 L201.66,292.43 L203.46,292.94 L207.06,294.27 L216.06,298.28 L219.66,299.73 L223.26,300.95 L225.06,301.47 L230.46,302.66 L234.06,303.20 L237.66,303.60 L244.86,304.12 L253.86,304.47 L266.46,304.70 L266.46,304.81 L95.46,304.81Z" fill="#fff" fill-opacity="0.45" stroke="none"/>
<path d="M95.46,304.81 L156.66,304.79 L162.06,304.68 L167.46,304.32 L171.06,303.75 L172.86,303.31 L174.66,302.74 L176.46,302.03 L178.26,301.18 L180.06,300.18 L181.86,299.05 L187.26,295.32 L189.06,294.16 L190.86,293.16 L192.66,292.39 L194.46,291.91 L196.26,291.74 L198.06,291.82 L199.86,292.05 L201.66,292.43 L203.46,292.94 L207.06,294.27 L216.06,298.28 L219.66,299.73 L223.26,300.95 L225.06,301.47 L230.46,302.66 L234.06,303.20 L237.66,303.60 L244.86,304.12 L253.86,304.47 L266.46,304.70 L266.46,304.81 L95.46,304.81Z" fill="url(#g9)" stroke="none"/>
<path d="M95.46,304.81 L156.66,304.79 L162.06,304.68 L167.46,304.32 L171.06,303.75 L172.86,303.31 L174.66,302.74 L176.46,302.03 L178.26,301.18 L180.06,300.18 L181.86,299.05 L187.26,295.32 L189.06,294.16 L190.86,293.16 L192.66,292.39 L194.46,291.91 L196.26,291.74 L198.06,291.82 L199.86,292.05 L201.66,292.43 L203.46,292.94 L207.06,294.27 L216.06,298.28 L219.66,299.73 L223.26,300.95 L225.06,301.47 L230.46,302.66 L234.06,303.20 L237.66,303.60 L244.86,304.12 L253.86,304.47 L266.46,304.70" fill="none" stroke="#22c6d6" stroke-width="0.9" stroke-linejoin="round"/>
<path d="M88.06,313.27 L134.86,313.27 L143.86,313.14 L147.46,312.90 L149.26,312.67 L151.06,312.32 L152.86,311.81 L154.66,311.07 L156.46,310.03 L158.26,308.64 L160.06,306.81 L161.86,304.48 L163.66,301.62 L165.46,298.22 L167.26,294.32 L169.06,290.02 L174.46,276.41 L176.26,272.43 L178.06,269.17 L179.86,266.85 L181.66,265.65 L183.46,265.57 L185.26,266.14 L187.06,267.27 L188.86,268.90 L190.66,270.98 L192.46,273.41 L194.26,276.13 L203.26,290.81 L206.86,295.91 L208.66,298.14 L210.46,300.13 L212.26,301.90 L214.06,303.45 L215.86,304.79 L217.66,305.95 L219.46,306.94 L221.26,307.80 L224.86,309.15 L228.46,310.15 L232.06,310.91 L237.46,311.72 L242.86,312.28 L250.06,312.75 L259.06,313.06 L259.06,313.27 L88.06,313.27Z" fill="#fff" fill-opacity="0.45" stroke="none"/>
<path d="M88.06,313.27 L134.86,313.27 L143.86,313.14 L147.46,312.90 L149.26,312.67 L151.06,312.32 L152.86,311.81 L154.66,311.07 L156.46,310.03 L158.26,308.64 L160.06,306.81 L161.86,304.48 L163.66,301.62 L165.46,298.22 L167.26,294.32 L169.06,290.02 L174.46,276.41 L176.26,272.43 L178.06,269.17 L179.86,266.85 L181.66,265.65 L183.46,265.57 L185.26,266.14 L187.06,267.27 L188.86,268.90 L190.66,270.98 L192.46,273.41 L194.26,276.13 L203.26,290.81 L206.86,295.91 L208.66,298.14 L210.46,300.13 L212.26,301.90 L214.06,303.45 L215.86,304.79 L217.66,305.95 L219.46,306.94 L221.26,307.80 L224.86,309.15 L228.46,310.15 L232.06,310.91 L237.46,311.72 L242.86,312.28 L250.06,312.75 L259.06,313.06 L259.06,313.27 L88.06,313.27Z" fill="url(#g10)" stroke="none"/>
<path d="M88.06,313.27 L134.86,313.27 L143.86,313.14 L147.46,312.90 L149.26,312.67 L151.06,312.32 L152.86,311.81 L154.66,311.07 L156.46,310.03 L158.26,308.64 L160.06,306.81 L161.86,304.48 L163.66,301.62 L165.46,298.22 L167.26,294.32 L169.06,290.02 L174.46,276.41 L176.26,272.43 L178.06,269.17 L179.86,266.85 L181.66,265.65 L183.46,265.57 L185.26,266.14 L187.06,267.27 L188.86,268.90 L190.66,270.98 L192.46,273.41 L194.26,276.13 L203.26,290.81 L206.86,295.91 L208.66,298.14 L210.46,300.13 L212.26,301.90 L214.06,303.45 L215.86,304.79 L217.66,305.95 L219.46,306.94 L221.26,307.80 L224.86,309.15 L228.46,310.15 L232.06,310.91 L237.46,311.72 L242.86,312.28 L250.06,312.75 L259.06,313.06" fill="none" stroke="#d8a31c" stroke-width="0.9" stroke-linejoin="round"/>
<path d="M80.66,321.73 L122.06,321.72 L131.06,321.54 L134.66,321.18 L136.46,320.83 L138.26,320.30 L140.06,319.50 L141.86,318.36 L143.66,316.76 L145.46,314.57 L147.26,311.70 L149.06,308.02 L150.86,303.46 L152.66,298.01 L154.46,291.71 L156.26,284.70 L161.66,262.11 L163.46,255.35 L165.26,249.68 L167.06,245.51 L168.86,243.13 L170.66,242.68 L172.46,243.44 L174.26,245.13 L176.06,247.67 L177.86,250.96 L179.66,254.89 L181.46,259.31 L190.46,283.62 L192.26,288.08 L194.06,292.21 L195.86,295.97 L197.66,299.35 L199.46,302.35 L201.26,304.98 L203.06,307.27 L204.86,309.25 L206.66,310.94 L208.46,312.40 L210.26,313.65 L212.06,314.71 L215.66,316.43 L217.46,317.11 L221.06,318.23 L226.46,319.45 L230.06,320.03 L233.66,320.49 L240.86,321.09 L251.66,321.53 L251.66,321.73 L80.66,321.73Z" fill="#fff" fill-opacity="0.45" stroke="none"/>
<path d="M80.66,321.73 L122.06,321.72 L131.06,321.54 L134.66,321.18 L136.46,320.83 L138.26,320.30 L140.06,319.50 L141.86,318.36 L143.66,316.76 L145.46,314.57 L147.26,311.70 L149.06,308.02 L150.86,303.46 L152.66,298.01 L154.46,291.71 L156.26,284.70 L161.66,262.11 L163.46,255.35 L165.26,249.68 L167.06,245.51 L168.86,243.13 L170.66,242.68 L172.46,243.44 L174.26,245.13 L176.06,247.67 L177.86,250.96 L179.66,254.89 L181.46,259.31 L190.46,283.62 L192.26,288.08 L194.06,292.21 L195.86,295.97 L197.66,299.35 L199.46,302.35 L201.26,304.98 L203.06,307.27 L204.86,309.25 L206.66,310.94 L208.46,312.40 L210.26,313.65 L212.06,314.71 L215.66,316.43 L217.46,317.11 L221.06,318.23 L226.46,319.45 L230.06,320.03 L233.66,320.49 L240.86,321.09 L251.66,321.53 L251.66,321.73 L80.66,321.73Z" fill="url(#g11)" stroke="none"/>
<path d="M80.66,321.73 L122.06,321.72 L131.06,321.54 L134.66,321.18 L136.46,320.83 L138.26,320.30 L140.06,319.50 L141.86,318.36 L143.66,316.76 L145.46,314.57 L147.26,311.70 L149.06,308.02 L150.86,303.46 L152.66,298.01 L154.46,291.71 L156.26,284.70 L161.66,262.11 L163.46,255.35 L165.26,249.68 L167.06,245.51 L168.86,243.13 L170.66,242.68 L172.46,243.44 L174.26,245.13 L176.06,247.67 L177.86,250.96 L179.66,254.89 L181.46,259.31 L190.46,283.62 L192.26,288.08 L194.06,292.21 L195.86,295.97 L197.66,299.35 L199.46,302.35 L201.26,304.98 L203.06,307.27 L204.86,309.25 L206.66,310.94 L208.46,312.40 L210.26,313.65 L212.06,314.71 L215.66,316.43 L217.46,317.11 L221.06,318.23 L226.46,319.45 L230.06,320.03 L233.66,320.49 L240.86,321.09 L251.66,321.53" fill="none" stroke="#a468e8" stroke-width="0.9" stroke-linejoin="round"/>
<path d="M73.26,330.19 L111.06,330.18 L116.46,330.10 L120.06,329.91 L123.66,329.40 L125.46,328.92 L127.26,328.21 L129.06,327.17 L130.86,325.71 L132.66,323.71 L134.46,321.06 L136.26,317.65 L138.06,313.40 L139.86,308.27 L141.66,302.31 L143.46,295.62 L148.86,273.68 L150.66,266.94 L152.46,261.19 L154.26,256.82 L156.06,254.14 L157.86,253.35 L159.66,253.91 L161.46,255.37 L163.26,257.68 L165.06,260.75 L166.86,264.45 L168.66,268.66 L170.46,273.22 L175.86,287.64 L179.46,296.66 L181.26,300.73 L183.06,304.46 L184.86,307.82 L186.66,310.81 L188.46,313.43 L190.26,315.72 L192.06,317.70 L193.86,319.40 L195.66,320.86 L197.46,322.11 L199.26,323.18 L201.06,324.10 L202.86,324.89 L206.46,326.17 L211.86,327.55 L217.26,328.49 L224.46,329.29 L233.46,329.82 L244.26,330.08 L244.26,330.19 L73.26,330.19Z" fill="#fff" fill-opacity="0.45" stroke="none"/>
<path d="M73.26,330.19 L111.06,330.18 L116.46,330.10 L120.06,329.91 L123.66,329.40 L125.46,328.92 L127.26,328.21 L129.06,327.17 L130.86,325.71 L132.66,323.71 L134.46,321.06 L136.26,317.65 L138.06,313.40 L139.86,308.27 L141.66,302.31 L143.46,295.62 L148.86,273.68 L150.66,266.94 L152.46,261.19 L154.26,256.82 L156.06,254.14 L157.86,253.35 L159.66,253.91 L161.46,255.37 L163.26,257.68 L165.06,260.75 L166.86,264.45 L168.66,268.66 L170.46,273.22 L175.86,287.64 L179.46,296.66 L181.26,300.73 L183.06,304.46 L184.86,307.82 L186.66,310.81 L188.46,313.43 L190.26,315.72 L192.06,317.70 L193.86,319.40 L195.66,320.86 L197.46,322.11 L199.26,323.18 L201.06,324.10 L202.86,324.89 L206.46,326.17 L211.86,327.55 L217.26,328.49 L224.46,329.29 L233.46,329.82 L244.26,330.08 L244.26,330.19 L73.26,330.19Z" fill="url(#g12)" stroke="none"/>
<path d="M73.26,330.19 L111.06,330.18 L116.46,330.10 L120.06,329.91 L123.66,329.40 L125.46,328.92 L127.26,328.21 L129.06,327.17 L130.86,325.71 L132.66,323.71 L134.46,321.06 L136.26,317.65 L138.06,313.40 L139.86,308.27 L141.66,302.31 L143.46,295.62 L148.86,273.68 L150.66,266.94 L152.46,261.19 L154.26,256.82 L156.06,254.14 L157.86,253.35 L159.66,253.91 L161.46,255.37 L163.26,257.68 L165.06,260.75 L166.86,264.45 L168.66,268.66 L170.46,273.22 L175.86,287.64 L179.46,296.66 L181.26,300.73 L183.06,304.46 L184.86,307.82 L186.66,310.81 L188.46,313.43 L190.26,315.72 L192.06,317.70 L193.86,319.40 L195.66,320.86 L197.46,322.11 L199.26,323.18 L201.06,324.10 L202.86,324.89 L206.46,326.17 L211.86,327.55 L217.26,328.49 L224.46,329.29 L233.46,329.82 L244.26,330.08" fill="none" stroke="#3aa862" stroke-width="0.9" stroke-linejoin="round"/>
<path d="M65.85,338.63 L89.25,338.39 L98.25,338.10 L105.45,337.69 L109.05,337.35 L112.65,336.76 L114.45,336.29 L116.25,335.65 L118.05,334.78 L119.85,333.59 L121.65,332.00 L123.45,329.94 L125.25,327.34 L127.05,324.16 L128.85,320.39 L130.65,316.08 L136.05,301.47 L137.85,296.84 L139.65,292.82 L141.45,289.70 L143.25,287.72 L145.05,287.05 L146.85,287.36 L148.65,288.28 L150.45,289.78 L152.25,291.79 L154.05,294.24 L155.85,297.03 L157.65,300.08 L164.85,312.88 L168.45,318.61 L170.25,321.13 L172.05,323.42 L173.85,325.45 L175.65,327.23 L177.45,328.79 L179.25,330.14 L181.05,331.30 L182.85,332.29 L184.65,333.15 L186.45,333.88 L190.05,335.04 L195.45,336.27 L200.85,337.09 L208.05,337.80 L215.25,338.21 L224.25,338.48 L236.85,338.61 L65.85,338.65Z" fill="#fff" fill-opacity="0.45" stroke="none"/>
<path d="M65.85,338.63 L89.25,338.39 L98.25,338.10 L105.45,337.69 L109.05,337.35 L112.65,336.76 L114.45,336.29 L116.25,335.65 L118.05,334.78 L119.85,333.59 L121.65,332.00 L123.45,329.94 L125.25,327.34 L127.05,324.16 L128.85,320.39 L130.65,316.08 L136.05,301.47 L137.85,296.84 L139.65,292.82 L141.45,289.70 L143.25,287.72 L145.05,287.05 L146.85,287.36 L148.65,288.28 L150.45,289.78 L152.25,291.79 L154.05,294.24 L155.85,297.03 L157.65,300.08 L164.85,312.88 L168.45,318.61 L170.25,321.13 L172.05,323.42 L173.85,325.45 L175.65,327.23 L177.45,328.79 L179.25,330.14 L181.05,331.30 L182.85,332.29 L184.65,333.15 L186.45,333.88 L190.05,335.04 L195.45,336.27 L200.85,337.09 L208.05,337.80 L215.25,338.21 L224.25,338.48 L236.85,338.61 L65.85,338.65Z" fill="url(#g13)" stroke="none"/>
<path d="M65.85,338.63 L89.25,338.39 L98.25,338.10 L105.45,337.69 L109.05,337.35 L112.65,336.76 L114.45,336.29 L116.25,335.65 L118.05,334.78 L119.85,333.59 L121.65,332.00 L123.45,329.94 L125.25,327.34 L127.05,324.16 L128.85,320.39 L130.65,316.08 L136.05,301.47 L137.85,296.84 L139.65,292.82 L141.45,289.70 L143.25,287.72 L145.05,287.05 L146.85,287.36 L148.65,288.28 L150.45,289.78 L152.25,291.79 L154.05,294.24 L155.85,297.03 L157.65,300.08 L164.85,312.88 L168.45,318.61 L170.25,321.13 L172.05,323.42 L173.85,325.45 L175.65,327.23 L177.45,328.79 L179.25,330.14 L181.05,331.30 L182.85,332.29 L184.65,333.15 L186.45,333.88 L190.05,335.04 L195.45,336.27 L200.85,337.09 L208.05,337.80 L215.25,338.21 L224.25,338.48 L236.85,338.61" fill="none" stroke="#2b6fd8" stroke-width="0.9" stroke-linejoin="round"/>
<path d="M58.45,347.04 L69.25,346.87 L76.45,346.63 L83.65,346.22 L89.05,345.77 L94.45,345.16 L99.85,344.31 L103.45,343.49 L105.25,342.94 L107.05,342.26 L108.85,341.41 L110.65,340.35 L112.45,339.03 L114.25,337.42 L116.05,335.50 L117.85,333.26 L119.65,330.74 L126.85,319.60 L128.65,317.26 L130.45,315.42 L132.25,314.23 L134.05,313.76 L135.85,313.92 L137.65,314.48 L139.45,315.41 L141.25,316.68 L143.05,318.24 L144.85,320.02 L146.65,321.98 L153.85,330.26 L157.45,333.98 L159.25,335.63 L161.05,337.12 L162.85,338.45 L164.65,339.62 L166.45,340.64 L168.25,341.53 L171.85,342.94 L175.45,343.98 L180.85,345.05 L186.25,345.75 L191.65,346.23 L198.85,346.63 L206.05,346.87 L215.05,347.02 L229.45,347.10 L58.45,347.11Z" fill="#fff" fill-opacity="0.45" stroke="none"/>
<path d="M58.45,347.04 L69.25,346.87 L76.45,346.63 L83.65,346.22 L89.05,345.77 L94.45,345.16 L99.85,344.31 L103.45,343.49 L105.25,342.94 L107.05,342.26 L108.85,341.41 L110.65,340.35 L112.45,339.03 L114.25,337.42 L116.05,335.50 L117.85,333.26 L119.65,330.74 L126.85,319.60 L128.65,317.26 L130.45,315.42 L132.25,314.23 L134.05,313.76 L135.85,313.92 L137.65,314.48 L139.45,315.41 L141.25,316.68 L143.05,318.24 L144.85,320.02 L146.65,321.98 L153.85,330.26 L157.45,333.98 L159.25,335.63 L161.05,337.12 L162.85,338.45 L164.65,339.62 L166.45,340.64 L168.25,341.53 L171.85,342.94 L175.45,343.98 L180.85,345.05 L186.25,345.75 L191.65,346.23 L198.85,346.63 L206.05,346.87 L215.05,347.02 L229.45,347.10 L58.45,347.11Z" fill="url(#g14)" stroke="none"/>
<path d="M58.45,347.04 L69.25,346.87 L76.45,346.63 L83.65,346.22 L89.05,345.77 L94.45,345.16 L99.85,344.31 L103.45,343.49 L105.25,342.94 L107.05,342.26 L108.85,341.41 L110.65,340.35 L112.45,339.03 L114.25,337.42 L116.05,335.50 L117.85,333.26 L119.65,330.74 L126.85,319.60 L128.65,317.26 L130.45,315.42 L132.25,314.23 L134.05,313.76 L135.85,313.92 L137.65,314.48 L139.45,315.41 L141.25,316.68 L143.05,318.24 L144.85,320.02 L146.65,321.98 L153.85,330.26 L157.45,333.98 L159.25,335.63 L161.05,337.12 L162.85,338.45 L164.65,339.62 L166.45,340.64 L168.25,341.53 L171.85,342.94 L175.45,343.98 L180.85,345.05 L186.25,345.75 L191.65,346.23 L198.85,346.63 L206.05,346.87 L215.05,347.02 L229.45,347.10" fill="none" stroke="#ee3b3b" stroke-width="0.9" stroke-linejoin="round"/>
<path d="M51.05,355.48 L65.45,355.18 L76.25,354.63 L81.65,354.20 L87.05,353.64 L90.65,353.14 L94.25,352.49 L97.85,351.56 L99.65,350.95 L103.25,349.36 L106.85,347.25 L114.05,342.13 L115.85,340.98 L117.65,340.03 L119.45,339.34 L121.25,338.96 L123.05,338.91 L124.85,339.09 L126.65,339.47 L128.45,340.02 L130.25,340.73 L133.85,342.51 L142.85,347.63 L146.45,349.43 L148.25,350.22 L150.05,350.92 L153.65,352.09 L155.45,352.57 L159.05,353.33 L162.65,353.89 L168.05,354.47 L173.45,354.84 L180.65,355.16 L196.85,355.48 L222.05,355.57 L51.05,355.57Z" fill="#fff" fill-opacity="0.45" stroke="none"/>
<path d="M51.05,355.48 L65.45,355.18 L76.25,354.63 L81.65,354.20 L87.05,353.64 L90.65,353.14 L94.25,352.49 L97.85,351.56 L99.65,350.95 L103.25,349.36 L106.85,347.25 L114.05,342.13 L115.85,340.98 L117.65,340.03 L119.45,339.34 L121.25,338.96 L123.05,338.91 L124.85,339.09 L126.65,339.47 L128.45,340.02 L130.25,340.73 L133.85,342.51 L142.85,347.63 L146.45,349.43 L148.25,350.22 L150.05,350.92 L153.65,352.09 L155.45,352.57 L159.05,353.33 L162.65,353.89 L168.05,354.47 L173.45,354.84 L180.65,355.16 L196.85,355.48 L222.05,355.57 L51.05,355.57Z" fill="url(#g15)" stroke="none"/>
<path d="M51.05,355.48 L65.45,355.18 L76.25,354.63 L81.65,354.20 L87.05,353.64 L90.65,353.14 L94.25,352.49 L97.85,351.56 L99.65,350.95 L103.25,349.36 L106.85,347.25 L114.05,342.13 L115.85,340.98 L117.65,340.03 L119.45,339.34 L121.25,338.96 L123.05,338.91 L124.85,339.09 L126.65,339.47 L128.45,340.02 L130.25,340.73 L133.85,342.51 L142.85,347.63 L146.45,349.43 L148.25,350.22 L150.05,350.92 L153.65,352.09 L155.45,352.57 L159.05,353.33 L162.65,353.89 L168.05,354.47 L173.45,354.84 L180.65,355.16 L196.85,355.48 L222.05,355.57" fill="none" stroke="#484848" stroke-width="0.9" stroke-linejoin="round"/>
<path d="M99.60,209.80 L279.60,209.80 L279.60,289.80 L216.60,361.80 L36.60,361.80 L36.60,281.80Z" fill="none" stroke="#161616" stroke-width="1.4" stroke-linejoin="miter"/>
<line x1="36.6" y1="361.8" x2="36.6" y2="364.8" stroke="#161616" stroke-width="1.1" />
<line x1="81.6" y1="361.8" x2="81.6" y2="364.8" stroke="#161616" stroke-width="1.1" />
<line x1="126.6" y1="361.8" x2="126.6" y2="364.8" stroke="#161616" stroke-width="1.1" />
<line x1="171.6" y1="361.8" x2="171.6" y2="364.8" stroke="#161616" stroke-width="1.1" />
<line x1="216.6" y1="361.8" x2="216.6" y2="364.8" stroke="#161616" stroke-width="1.1" />
<line x1="59.1" y1="361.8" x2="59.1" y2="363.6" stroke="#161616" stroke-width="1.1" />
<line x1="104.1" y1="361.8" x2="104.1" y2="363.6" stroke="#161616" stroke-width="1.1" />
<line x1="149.1" y1="361.8" x2="149.1" y2="363.6" stroke="#161616" stroke-width="1.1" />
<line x1="194.1" y1="361.8" x2="194.1" y2="363.6" stroke="#161616" stroke-width="1.1" />
<text stroke="#111" stroke-width="0.28" x="36.45" y="372.4" font-size="9.2" text-anchor="middle" font-weight="bold" fill="#111" >700</text>
<text stroke="#111" stroke-width="0.28" x="81.45" y="372.4" font-size="9.2" text-anchor="middle" font-weight="bold" fill="#111" >750</text>
<text stroke="#111" stroke-width="0.28" x="126.45" y="372.4" font-size="9.2" text-anchor="middle" font-weight="bold" fill="#111" >800</text>
<text stroke="#111" stroke-width="0.28" x="171.45" y="372.4" font-size="9.2" text-anchor="middle" font-weight="bold" fill="#111" >850</text>
<text stroke="#111" stroke-width="0.28" x="216.45" y="372.4" font-size="9.2" text-anchor="middle" font-weight="bold" fill="#111" >900</text>
<text stroke="#111" stroke-width="0.28" x="127.1" y="383" font-size="10" text-anchor="middle" font-weight="bold" fill="#111" >Wavelength (nm)</text>
<line x1="279.6" y1="289.8" x2="282.6" y2="289.8" stroke="#161616" stroke-width="1.1" />
<line x1="279.6" y1="267.26" x2="282.6" y2="267.26" stroke="#161616" stroke-width="1.1" />
<line x1="279.6" y1="244.73" x2="282.6" y2="244.73" stroke="#161616" stroke-width="1.1" />
<line x1="279.6" y1="222.19" x2="282.6" y2="222.19" stroke="#161616" stroke-width="1.1" />
<line x1="279.6" y1="278.53" x2="281.4" y2="278.53" stroke="#161616" stroke-width="1.1" />
<line x1="279.6" y1="256" x2="281.4" y2="256" stroke="#161616" stroke-width="1.1" />
<line x1="279.6" y1="233.46" x2="281.4" y2="233.46" stroke="#161616" stroke-width="1.1" />
<line x1="279.6" y1="210.93" x2="281.4" y2="210.93" stroke="#161616" stroke-width="1.1" />
<text stroke="#111" stroke-width="0.28" x="282.8" y="293.2" font-size="9.2" text-anchor="start" font-weight="bold" fill="#111" >0</text>
<text stroke="#111" stroke-width="0.28" x="282.8" y="270.66" font-size="9.2" text-anchor="start" font-weight="bold" fill="#111" >1</text>
<text stroke="#111" stroke-width="0.28" x="282.8" y="248.13" font-size="9.2" text-anchor="start" font-weight="bold" fill="#111" >2</text>
<text stroke="#111" stroke-width="0.28" x="282.8" y="225.59" font-size="9.2" text-anchor="start" font-weight="bold" fill="#111" >3</text>
<line x1="219.45" y1="355.57" x2="222.05" y2="355.57" stroke="#161616" stroke-width="1.1" />
<text stroke="#111" stroke-width="0.28" x="229.55" y="360.77" font-size="9.2" text-anchor="start" font-weight="bold" fill="#111" >1.0</text>
<line x1="226.85" y1="347.11" x2="229.45" y2="347.11" stroke="#161616" stroke-width="1.1" />
<text stroke="#111" stroke-width="0.28" x="236.95" y="352.31" font-size="9.2" text-anchor="start" font-weight="bold" fill="#111" >2.5</text>
<line x1="234.25" y1="338.65" x2="236.85" y2="338.65" stroke="#161616" stroke-width="1.1" />
<text stroke="#111" stroke-width="0.28" x="244.35" y="343.85" font-size="9.2" text-anchor="start" font-weight="bold" fill="#111" >5.0</text>
<line x1="241.66" y1="330.19" x2="244.26" y2="330.19" stroke="#161616" stroke-width="1.1" />
<text stroke="#111" stroke-width="0.28" x="251.76" y="335.39" font-size="9.2" text-anchor="start" font-weight="bold" fill="#111" >10</text>
<line x1="249.06" y1="321.73" x2="251.66" y2="321.73" stroke="#161616" stroke-width="1.1" />
<text stroke="#111" stroke-width="0.28" x="259.16" y="326.93" font-size="9.2" text-anchor="start" font-weight="bold" fill="#111" >25</text>
<line x1="256.46" y1="313.27" x2="259.06" y2="313.27" stroke="#161616" stroke-width="1.1" />
<text stroke="#111" stroke-width="0.28" x="266.56" y="318.47" font-size="9.2" text-anchor="start" font-weight="bold" fill="#111" >50</text>
<line x1="263.86" y1="304.81" x2="266.46" y2="304.81" stroke="#161616" stroke-width="1.1" />
<text stroke="#111" stroke-width="0.28" x="273.96" y="310.01" font-size="9.2" text-anchor="start" font-weight="bold" fill="#111" >100</text>
<line x1="271.27" y1="296.35" x2="273.87" y2="296.35" stroke="#161616" stroke-width="1.1" />
<text stroke="#111" stroke-width="0.28" x="281.37" y="301.55" font-size="9.2" text-anchor="start" font-weight="bold" fill="#111" >250</text>
<text stroke="#111" stroke-width="0.28" x="246.6" y="386.1" font-size="10" font-weight="bold" fill="#111" transform="rotate(-50.01 246.6 386.1)">Concentration (μg mL<tspan dy="-3.5" font-size="6.5">-1</tspan><tspan dy="3.5">)</tspan></text>
<text stroke="#111" stroke-width="0.28" x="279.9" y="207.5" font-size="9.6" text-anchor="end" font-weight="bold" fill="#111" >×10<tspan dy='-3.9' font-size='6.8'>6</tspan></text>
<text stroke="#111" stroke-width="0.28" x="304.4" y="250" font-size="10" font-weight="bold" fill="#111" text-anchor="middle" transform="rotate(-90 304.4 250)">PL Intensity (arb. units)</text>
<line x1="451" y1="279.8" x2="631" y2="279.8" stroke="#f4f4f4" stroke-width="0.6" />
<line x1="451" y1="259.8" x2="631" y2="259.8" stroke="#f4f4f4" stroke-width="0.6" />
<line x1="451" y1="239.8" x2="631" y2="239.8" stroke="#f4f4f4" stroke-width="0.6" />
<line x1="451" y1="219.8" x2="631" y2="219.8" stroke="#f4f4f4" stroke-width="0.6" />
<line x1="451" y1="269.8" x2="631" y2="269.8" stroke="#cdcdcd" stroke-width="0.6" />
<line x1="451" y1="249.8" x2="631" y2="249.8" stroke="#cdcdcd" stroke-width="0.6" />
<line x1="451" y1="229.8" x2="631" y2="229.8" stroke="#cdcdcd" stroke-width="0.6" />
<line x1="473.5" y1="289.8" x2="473.5" y2="209.8" stroke="#f0f0f0" stroke-width="0.6" />
<line x1="518.5" y1="289.8" x2="518.5" y2="209.8" stroke="#f0f0f0" stroke-width="0.6" />
<line x1="563.5" y1="289.8" x2="563.5" y2="209.8" stroke="#f0f0f0" stroke-width="0.6" />
<line x1="608.5" y1="289.8" x2="608.5" y2="209.8" stroke="#f0f0f0" stroke-width="0.6" />
<line x1="496" y1="289.8" x2="496" y2="209.8" stroke="#d2d2d2" stroke-width="0.6" />
<line x1="541" y1="289.8" x2="541" y2="209.8" stroke="#d2d2d2" stroke-width="0.6" />
<line x1="586" y1="289.8" x2="586" y2="209.8" stroke="#d2d2d2" stroke-width="0.6" />
<line x1="388" y1="351.8" x2="451" y2="279.8" stroke="#f4f4f4" stroke-width="0.6" />
<line x1="388" y1="331.8" x2="451" y2="259.8" stroke="#f4f4f4" stroke-width="0.6" />
<line x1="388" y1="311.8" x2="451" y2="239.8" stroke="#f4f4f4" stroke-width="0.6" />
<line x1="388" y1="291.8" x2="451" y2="219.8" stroke="#f4f4f4" stroke-width="0.6" />
<line x1="388" y1="341.8" x2="451" y2="269.8" stroke="#c8c8c8" stroke-width="0.6" />
<line x1="388" y1="321.8" x2="451" y2="249.8" stroke="#c8c8c8" stroke-width="0.6" />
<line x1="388" y1="301.8" x2="451" y2="229.8" stroke="#c8c8c8" stroke-width="0.6" />
<line x1="393.45" y1="355.57" x2="393.45" y2="275.57" stroke="#d0d0d0" stroke-width="0.6" />
<line x1="400.85" y1="347.11" x2="400.85" y2="267.11" stroke="#d0d0d0" stroke-width="0.6" />
<line x1="415.66" y1="330.19" x2="415.66" y2="250.19" stroke="#d0d0d0" stroke-width="0.6" />
<line x1="423.06" y1="321.73" x2="423.06" y2="241.73" stroke="#d0d0d0" stroke-width="0.6" />
<line x1="437.86" y1="304.81" x2="437.86" y2="224.81" stroke="#d0d0d0" stroke-width="0.6" />
<line x1="445.27" y1="296.35" x2="445.27" y2="216.35" stroke="#d0d0d0" stroke-width="0.6" />
<line x1="388" y1="361.8" x2="451" y2="289.8" stroke="#cfcfcf" stroke-width="0.6" />
<line x1="451" y1="289.8" x2="631" y2="289.8" stroke="#d6d6d6" stroke-width="0.6" />
<line x1="393.45" y1="355.57" x2="573.45" y2="355.57" stroke="#e8e8e8" stroke-width="1.0" />
<line x1="400.85" y1="347.11" x2="580.85" y2="347.11" stroke="#e8e8e8" stroke-width="1.0" />
<line x1="408.25" y1="338.65" x2="588.25" y2="338.65" stroke="#e8e8e8" stroke-width="1.0" />
<line x1="415.66" y1="330.19" x2="595.66" y2="330.19" stroke="#e8e8e8" stroke-width="1.0" />
<line x1="423.06" y1="321.73" x2="603.06" y2="321.73" stroke="#e8e8e8" stroke-width="1.0" />
<line x1="430.46" y1="313.27" x2="610.46" y2="313.27" stroke="#e8e8e8" stroke-width="1.0" />
<line x1="437.86" y1="304.81" x2="617.86" y2="304.81" stroke="#e8e8e8" stroke-width="1.0" />
<line x1="445.27" y1="296.35" x2="625.27" y2="296.35" stroke="#e8e8e8" stroke-width="1.0" />
<line x1="433" y1="361.8" x2="496" y2="289.8" stroke="#d0d0d0" stroke-width="0.6" />
<line x1="478" y1="361.8" x2="541" y2="289.8" stroke="#d0d0d0" stroke-width="0.6" />
<line x1="523" y1="361.8" x2="586" y2="289.8" stroke="#d0d0d0" stroke-width="0.6" />
<line x1="568" y1="361.8" x2="631" y2="289.8" stroke="#d0d0d0" stroke-width="0.6" />
<path d="M454.27,296.35 L490.27,296.33 L506.47,296.21 L517.27,295.95 L526.27,295.40 L531.67,294.79 L537.07,293.86 L540.67,293.03 L544.27,292.03 L555.07,288.55 L558.67,287.53 L562.27,286.78 L564.07,286.54 L567.67,286.35 L569.47,286.40 L573.07,286.70 L578.47,287.62 L583.87,288.95 L596.47,292.38 L601.87,293.58 L605.47,294.23 L609.07,294.76 L614.47,295.35 L619.87,295.74 L625.27,295.99 L625.27,296.35 L454.27,296.35Z" fill="#fff" fill-opacity="0.45" stroke="none"/>
<path d="M454.27,296.35 L490.27,296.33 L506.47,296.21 L517.27,295.95 L526.27,295.40 L531.67,294.79 L537.07,293.86 L540.67,293.03 L544.27,292.03 L555.07,288.55 L558.67,287.53 L562.27,286.78 L564.07,286.54 L567.67,286.35 L569.47,286.40 L573.07,286.70 L578.47,287.62 L583.87,288.95 L596.47,292.38 L601.87,293.58 L605.47,294.23 L609.07,294.76 L614.47,295.35 L619.87,295.74 L625.27,295.99 L625.27,296.35 L454.27,296.35Z" fill="url(#g16)" stroke="none"/>
<path d="M454.27,296.35 L490.27,296.33 L506.47,296.21 L517.27,295.95 L526.27,295.40 L531.67,294.79 L537.07,293.86 L540.67,293.03 L544.27,292.03 L555.07,288.55 L558.67,287.53 L562.27,286.78 L564.07,286.54 L567.67,286.35 L569.47,286.40 L573.07,286.70 L578.47,287.62 L583.87,288.95 L596.47,292.38 L601.87,293.58 L605.47,294.23 L609.07,294.76 L614.47,295.35 L619.87,295.74 L625.27,295.99" fill="none" stroke="#8a4e4e" stroke-width="0.9" stroke-linejoin="round"/>
<path d="M446.86,304.81 L500.86,304.81 L509.86,304.72 L515.26,304.37 L517.06,304.10 L518.86,303.70 L520.66,303.11 L522.46,302.28 L524.26,301.14 L526.06,299.61 L527.86,297.64 L529.66,295.17 L531.46,292.19 L533.26,288.69 L535.06,284.74 L540.46,271.62 L542.26,267.52 L544.06,263.98 L545.86,261.22 L547.66,259.46 L549.46,258.81 L551.26,259.04 L553.06,259.77 L554.86,260.98 L556.66,262.62 L558.46,264.63 L560.26,266.95 L562.06,269.50 L571.06,283.15 L574.66,287.95 L576.46,290.07 L578.26,291.98 L580.06,293.68 L581.86,295.19 L583.66,296.50 L585.46,297.65 L587.26,298.64 L589.06,299.49 L592.66,300.85 L596.26,301.85 L599.86,302.60 L605.26,303.39 L610.66,303.91 L617.86,304.34 L617.86,304.81 L446.86,304.81Z" fill="#fff" fill-opacity="0.45" stroke="none"/>
<path d="M446.86,304.81 L500.86,304.81 L509.86,304.72 L515.26,304.37 L517.06,304.10 L518.86,303.70 L520.66,303.11 L522.46,302.28 L524.26,301.14 L526.06,299.61 L527.86,297.64 L529.66,295.17 L531.46,292.19 L533.26,288.69 L535.06,284.74 L540.46,271.62 L542.26,267.52 L544.06,263.98 L545.86,261.22 L547.66,259.46 L549.46,258.81 L551.26,259.04 L553.06,259.77 L554.86,260.98 L556.66,262.62 L558.46,264.63 L560.26,266.95 L562.06,269.50 L571.06,283.15 L574.66,287.95 L576.46,290.07 L578.26,291.98 L580.06,293.68 L581.86,295.19 L583.66,296.50 L585.46,297.65 L587.26,298.64 L589.06,299.49 L592.66,300.85 L596.26,301.85 L599.86,302.60 L605.26,303.39 L610.66,303.91 L617.86,304.34 L617.86,304.81 L446.86,304.81Z" fill="url(#g17)" stroke="none"/>
<path d="M446.86,304.81 L500.86,304.81 L509.86,304.72 L515.26,304.37 L517.06,304.10 L518.86,303.70 L520.66,303.11 L522.46,302.28 L524.26,301.14 L526.06,299.61 L527.86,297.64 L529.66,295.17 L531.46,292.19 L533.26,288.69 L535.06,284.74 L540.46,271.62 L542.26,267.52 L544.06,263.98 L545.86,261.22 L547.66,259.46 L549.46,258.81 L551.26,259.04 L553.06,259.77 L554.86,260.98 L556.66,262.62 L558.46,264.63 L560.26,266.95 L562.06,269.50 L571.06,283.15 L574.66,287.95 L576.46,290.07 L578.26,291.98 L580.06,293.68 L581.86,295.19 L583.66,296.50 L585.46,297.65 L587.26,298.64 L589.06,299.49 L592.66,300.85 L596.26,301.85 L599.86,302.60 L605.26,303.39 L610.66,303.91 L617.86,304.34" fill="none" stroke="#22c6d6" stroke-width="0.9" stroke-linejoin="round"/>
<path d="M439.46,313.27 L486.26,313.26 L495.26,313.11 L498.86,312.79 L500.66,312.48 L502.46,312.01 L504.26,311.30 L506.06,310.28 L507.86,308.85 L509.66,306.89 L511.46,304.31 L513.26,300.99 L515.06,296.87 L516.86,291.92 L518.66,286.18 L520.46,279.77 L525.86,258.92 L527.66,252.59 L529.46,247.24 L531.26,243.24 L533.06,240.87 L534.86,240.29 L536.66,240.85 L538.46,242.21 L540.26,244.30 L542.06,247.06 L543.86,250.39 L545.66,254.17 L547.46,258.29 L554.66,275.78 L558.26,283.79 L560.06,287.38 L561.86,290.66 L563.66,293.61 L565.46,296.23 L567.26,298.55 L569.06,300.57 L570.86,302.32 L572.66,303.83 L574.46,305.14 L576.26,306.25 L578.06,307.21 L581.66,308.74 L585.26,309.89 L590.66,311.09 L596.06,311.89 L603.26,312.56 L610.46,312.92 L610.46,313.27 L439.46,313.27Z" fill="#fff" fill-opacity="0.45" stroke="none"/>
<path d="M439.46,313.27 L486.26,313.26 L495.26,313.11 L498.86,312.79 L500.66,312.48 L502.46,312.01 L504.26,311.30 L506.06,310.28 L507.86,308.85 L509.66,306.89 L511.46,304.31 L513.26,300.99 L515.06,296.87 L516.86,291.92 L518.66,286.18 L520.46,279.77 L525.86,258.92 L527.66,252.59 L529.46,247.24 L531.26,243.24 L533.06,240.87 L534.86,240.29 L536.66,240.85 L538.46,242.21 L540.26,244.30 L542.06,247.06 L543.86,250.39 L545.66,254.17 L547.46,258.29 L554.66,275.78 L558.26,283.79 L560.06,287.38 L561.86,290.66 L563.66,293.61 L565.46,296.23 L567.26,298.55 L569.06,300.57 L570.86,302.32 L572.66,303.83 L574.46,305.14 L576.26,306.25 L578.06,307.21 L581.66,308.74 L585.26,309.89 L590.66,311.09 L596.06,311.89 L603.26,312.56 L610.46,312.92 L610.46,313.27 L439.46,313.27Z" fill="url(#g18)" stroke="none"/>
<path d="M439.46,313.27 L486.26,313.26 L495.26,313.11 L498.86,312.79 L500.66,312.48 L502.46,312.01 L504.26,311.30 L506.06,310.28 L507.86,308.85 L509.66,306.89 L511.46,304.31 L513.26,300.99 L515.06,296.87 L516.86,291.92 L518.66,286.18 L520.46,279.77 L525.86,258.92 L527.66,252.59 L529.46,247.24 L531.26,243.24 L533.06,240.87 L534.86,240.29 L536.66,240.85 L538.46,242.21 L540.26,244.30 L542.06,247.06 L543.86,250.39 L545.66,254.17 L547.46,258.29 L554.66,275.78 L558.26,283.79 L560.06,287.38 L561.86,290.66 L563.66,293.61 L565.46,296.23 L567.26,298.55 L569.06,300.57 L570.86,302.32 L572.66,303.83 L574.46,305.14 L576.26,306.25 L578.06,307.21 L581.66,308.74 L585.26,309.89 L590.66,311.09 L596.06,311.89 L603.26,312.56 L610.46,312.92" fill="none" stroke="#d8a31c" stroke-width="0.9" stroke-linejoin="round"/>
<path d="M432.06,321.73 L473.46,321.72 L478.86,321.67 L482.46,321.53 L486.06,321.16 L487.86,320.80 L489.66,320.25 L491.46,319.44 L493.26,318.27 L495.06,316.64 L496.86,314.42 L498.66,311.51 L500.46,307.80 L502.26,303.22 L504.06,297.76 L505.86,291.47 L507.66,284.49 L513.06,262.24 L514.86,255.65 L516.66,250.20 L518.46,246.25 L520.26,244.09 L522.06,243.80 L523.86,244.58 L525.66,246.19 L527.46,248.58 L529.26,251.65 L531.06,255.31 L532.86,259.44 L534.66,263.89 L541.86,282.58 L545.46,291.03 L547.26,294.80 L549.06,298.23 L550.86,301.31 L552.66,304.05 L554.46,306.45 L556.26,308.55 L558.06,310.37 L559.86,311.94 L561.66,313.29 L563.46,314.45 L565.26,315.44 L568.86,317.03 L570.66,317.67 L574.26,318.69 L579.66,319.79 L583.26,320.30 L586.86,320.70 L594.06,321.21 L603.06,321.53 L603.06,321.73 L432.06,321.73Z" fill="#fff" fill-opacity="0.45" stroke="none"/>
<path d="M432.06,321.73 L473.46,321.72 L478.86,321.67 L482.46,321.53 L486.06,321.16 L487.86,320.80 L489.66,320.25 L491.46,319.44 L493.26,318.27 L495.06,316.64 L496.86,314.42 L498.66,311.51 L500.46,307.80 L502.26,303.22 L504.06,297.76 L505.86,291.47 L507.66,284.49 L513.06,262.24 L514.86,255.65 L516.66,250.20 L518.46,246.25 L520.26,244.09 L522.06,243.80 L523.86,244.58 L525.66,246.19 L527.46,248.58 L529.26,251.65 L531.06,255.31 L532.86,259.44 L534.66,263.89 L541.86,282.58 L545.46,291.03 L547.26,294.80 L549.06,298.23 L550.86,301.31 L552.66,304.05 L554.46,306.45 L556.26,308.55 L558.06,310.37 L559.86,311.94 L561.66,313.29 L563.46,314.45 L565.26,315.44 L568.86,317.03 L570.66,317.67 L574.26,318.69 L579.66,319.79 L583.26,320.30 L586.86,320.70 L594.06,321.21 L603.06,321.53 L603.06,321.73 L432.06,321.73Z" fill="url(#g19)" stroke="none"/>
<path d="M432.06,321.73 L473.46,321.72 L478.86,321.67 L482.46,321.53 L486.06,321.16 L487.86,320.80 L489.66,320.25 L491.46,319.44 L493.26,318.27 L495.06,316.64 L496.86,314.42 L498.66,311.51 L500.46,307.80 L502.26,303.22 L504.06,297.76 L505.86,291.47 L507.66,284.49 L513.06,262.24 L514.86,255.65 L516.66,250.20 L518.46,246.25 L520.26,244.09 L522.06,243.80 L523.86,244.58 L525.66,246.19 L527.46,248.58 L529.26,251.65 L531.06,255.31 L532.86,259.44 L534.66,263.89 L541.86,282.58 L545.46,291.03 L547.26,294.80 L549.06,298.23 L550.86,301.31 L552.66,304.05 L554.46,306.45 L556.26,308.55 L558.06,310.37 L559.86,311.94 L561.66,313.29 L563.46,314.45 L565.26,315.44 L568.86,317.03 L570.66,317.67 L574.26,318.69 L579.66,319.79 L583.26,320.30 L586.86,320.70 L594.06,321.21 L603.06,321.53" fill="none" stroke="#a468e8" stroke-width="0.9" stroke-linejoin="round"/>
<path d="M424.66,330.19 L460.66,330.18 L466.06,330.13 L469.66,329.99 L473.26,329.62 L475.06,329.27 L476.86,328.75 L478.66,327.98 L480.46,326.89 L482.26,325.38 L484.06,323.37 L485.86,320.76 L487.66,317.48 L489.46,313.50 L491.26,308.82 L493.06,303.53 L498.46,285.75 L500.26,280.14 L502.06,275.23 L503.86,271.38 L505.66,268.84 L507.46,267.81 L509.26,268.04 L511.06,268.97 L512.86,270.54 L514.66,272.71 L516.46,275.39 L518.26,278.50 L521.86,285.59 L529.06,300.46 L532.66,307.02 L534.46,309.91 L536.26,312.53 L538.06,314.87 L539.86,316.94 L541.66,318.75 L543.46,320.33 L545.26,321.69 L547.06,322.87 L548.86,323.87 L552.46,325.48 L554.26,326.12 L557.86,327.15 L563.26,328.23 L568.66,328.95 L575.86,329.54 L584.86,329.93 L595.66,330.11 L595.66,330.19 L424.66,330.19Z" fill="#fff" fill-opacity="0.45" stroke="none"/>
<path d="M424.66,330.19 L460.66,330.18 L466.06,330.13 L469.66,329.99 L473.26,329.62 L475.06,329.27 L476.86,328.75 L478.66,327.98 L480.46,326.89 L482.26,325.38 L484.06,323.37 L485.86,320.76 L487.66,317.48 L489.46,313.50 L491.26,308.82 L493.06,303.53 L498.46,285.75 L500.26,280.14 L502.06,275.23 L503.86,271.38 L505.66,268.84 L507.46,267.81 L509.26,268.04 L511.06,268.97 L512.86,270.54 L514.66,272.71 L516.46,275.39 L518.26,278.50 L521.86,285.59 L529.06,300.46 L532.66,307.02 L534.46,309.91 L536.26,312.53 L538.06,314.87 L539.86,316.94 L541.66,318.75 L543.46,320.33 L545.26,321.69 L547.06,322.87 L548.86,323.87 L552.46,325.48 L554.26,326.12 L557.86,327.15 L563.26,328.23 L568.66,328.95 L575.86,329.54 L584.86,329.93 L595.66,330.11 L595.66,330.19 L424.66,330.19Z" fill="url(#g20)" stroke="none"/>
<path d="M424.66,330.19 L460.66,330.18 L466.06,330.13 L469.66,329.99 L473.26,329.62 L475.06,329.27 L476.86,328.75 L478.66,327.98 L480.46,326.89 L482.26,325.38 L484.06,323.37 L485.86,320.76 L487.66,317.48 L489.46,313.50 L491.26,308.82 L493.06,303.53 L498.46,285.75 L500.26,280.14 L502.06,275.23 L503.86,271.38 L505.66,268.84 L507.46,267.81 L509.26,268.04 L511.06,268.97 L512.86,270.54 L514.66,272.71 L516.46,275.39 L518.26,278.50 L521.86,285.59 L529.06,300.46 L532.66,307.02 L534.46,309.91 L536.26,312.53 L538.06,314.87 L539.86,316.94 L541.66,318.75 L543.46,320.33 L545.26,321.69 L547.06,322.87 L548.86,323.87 L552.46,325.48 L554.26,326.12 L557.86,327.15 L563.26,328.23 L568.66,328.95 L575.86,329.54 L584.86,329.93 L595.66,330.11" fill="none" stroke="#3aa862" stroke-width="0.9" stroke-linejoin="round"/>
<path d="M417.25,338.63 L440.65,338.42 L449.65,338.18 L456.85,337.83 L460.45,337.53 L464.05,337.02 L465.85,336.61 L467.65,336.06 L469.45,335.29 L471.25,334.25 L473.05,332.88 L474.85,331.10 L476.65,328.85 L478.45,326.11 L480.25,322.87 L482.05,319.20 L487.45,306.83 L489.25,302.96 L491.05,299.63 L492.85,297.08 L494.65,295.52 L496.45,295.05 L498.25,295.34 L500.05,296.11 L501.85,297.32 L503.65,298.93 L505.45,300.88 L507.25,303.12 L509.05,305.56 L516.25,316.01 L519.85,320.82 L521.65,322.98 L523.45,324.96 L525.25,326.74 L527.05,328.33 L528.85,329.73 L530.65,330.95 L532.45,332.01 L534.25,332.93 L537.85,334.40 L541.45,335.48 L546.85,336.60 L552.25,337.33 L559.45,337.94 L566.65,338.29 L575.65,338.51 L588.25,338.62 L417.25,338.65Z" fill="#fff" fill-opacity="0.45" stroke="none"/>
<path d="M417.25,338.63 L440.65,338.42 L449.65,338.18 L456.85,337.83 L460.45,337.53 L464.05,337.02 L465.85,336.61 L467.65,336.06 L469.45,335.29 L471.25,334.25 L473.05,332.88 L474.85,331.10 L476.65,328.85 L478.45,326.11 L480.25,322.87 L482.05,319.20 L487.45,306.83 L489.25,302.96 L491.05,299.63 L492.85,297.08 L494.65,295.52 L496.45,295.05 L498.25,295.34 L500.05,296.11 L501.85,297.32 L503.65,298.93 L505.45,300.88 L507.25,303.12 L509.05,305.56 L516.25,316.01 L519.85,320.82 L521.65,322.98 L523.45,324.96 L525.25,326.74 L527.05,328.33 L528.85,329.73 L530.65,330.95 L532.45,332.01 L534.25,332.93 L537.85,334.40 L541.45,335.48 L546.85,336.60 L552.25,337.33 L559.45,337.94 L566.65,338.29 L575.65,338.51 L588.25,338.62 L417.25,338.65Z" fill="url(#g21)" stroke="none"/>
<path d="M417.25,338.63 L440.65,338.42 L449.65,338.18 L456.85,337.83 L460.45,337.53 L464.05,337.02 L465.85,336.61 L467.65,336.06 L469.45,335.29 L471.25,334.25 L473.05,332.88 L474.85,331.10 L476.65,328.85 L478.45,326.11 L480.25,322.87 L482.05,319.20 L487.45,306.83 L489.25,302.96 L491.05,299.63 L492.85,297.08 L494.65,295.52 L496.45,295.05 L498.25,295.34 L500.05,296.11 L501.85,297.32 L503.65,298.93 L505.45,300.88 L507.25,303.12 L509.05,305.56 L516.25,316.01 L519.85,320.82 L521.65,322.98 L523.45,324.96 L525.25,326.74 L527.05,328.33 L528.85,329.73 L530.65,330.95 L532.45,332.01 L534.25,332.93 L537.85,334.40 L541.45,335.48 L546.85,336.60 L552.25,337.33 L559.45,337.94 L566.65,338.29 L575.65,338.51 L588.25,338.62" fill="none" stroke="#2b6fd8" stroke-width="0.9" stroke-linejoin="round"/>
<path d="M409.85,347.05 L418.85,346.94 L427.85,346.70 L435.05,346.36 L440.45,345.98 L445.85,345.48 L451.25,344.76 L454.85,344.05 L458.45,342.99 L460.25,342.26 L462.05,341.34 L463.85,340.20 L465.65,338.83 L467.45,337.19 L469.25,335.31 L471.05,333.21 L476.45,326.34 L478.25,324.23 L480.05,322.45 L481.85,321.11 L483.65,320.31 L485.45,320.12 L487.25,320.33 L489.05,320.83 L490.85,321.60 L492.65,322.62 L494.45,323.85 L496.25,325.25 L505.25,333.25 L508.85,336.21 L510.65,337.54 L512.45,338.75 L516.05,340.81 L519.65,342.41 L523.25,343.62 L526.85,344.52 L532.25,345.44 L537.65,346.03 L543.05,346.42 L550.25,346.74 L557.45,346.93 L580.85,347.10 L409.85,347.11Z" fill="#fff" fill-opacity="0.45" stroke="none"/>
<path d="M409.85,347.05 L418.85,346.94 L427.85,346.70 L435.05,346.36 L440.45,345.98 L445.85,345.48 L451.25,344.76 L454.85,344.05 L458.45,342.99 L460.25,342.26 L462.05,341.34 L463.85,340.20 L465.65,338.83 L467.45,337.19 L469.25,335.31 L471.05,333.21 L476.45,326.34 L478.25,324.23 L480.05,322.45 L481.85,321.11 L483.65,320.31 L485.45,320.12 L487.25,320.33 L489.05,320.83 L490.85,321.60 L492.65,322.62 L494.45,323.85 L496.25,325.25 L505.25,333.25 L508.85,336.21 L510.65,337.54 L512.45,338.75 L516.05,340.81 L519.65,342.41 L523.25,343.62 L526.85,344.52 L532.25,345.44 L537.65,346.03 L543.05,346.42 L550.25,346.74 L557.45,346.93 L580.85,347.10 L409.85,347.11Z" fill="url(#g22)" stroke="none"/>
<path d="M409.85,347.05 L418.85,346.94 L427.85,346.70 L435.05,346.36 L440.45,345.98 L445.85,345.48 L451.25,344.76 L454.85,344.05 L458.45,342.99 L460.25,342.26 L462.05,341.34 L463.85,340.20 L465.65,338.83 L467.45,337.19 L469.25,335.31 L471.05,333.21 L476.45,326.34 L478.25,324.23 L480.05,322.45 L481.85,321.11 L483.65,320.31 L485.45,320.12 L487.25,320.33 L489.05,320.83 L490.85,321.60 L492.65,322.62 L494.45,323.85 L496.25,325.25 L505.25,333.25 L508.85,336.21 L510.65,337.54 L512.45,338.75 L516.05,340.81 L519.65,342.41 L523.25,343.62 L526.85,344.52 L532.25,345.44 L537.65,346.03 L543.05,346.42 L550.25,346.74 L557.45,346.93 L580.85,347.10" fill="none" stroke="#ee3b3b" stroke-width="0.9" stroke-linejoin="round"/>
<path d="M402.45,355.49 L416.85,355.21 L427.65,354.72 L433.05,354.33 L438.45,353.82 L442.05,353.38 L445.65,352.77 L449.25,351.91 L452.85,350.67 L456.45,348.98 L458.25,347.97 L465.45,343.55 L467.25,342.62 L469.05,341.88 L470.85,341.39 L472.65,341.18 L474.45,341.22 L476.25,341.43 L478.05,341.79 L479.85,342.28 L483.45,343.61 L494.25,348.67 L499.65,350.86 L501.45,351.47 L505.05,352.49 L508.65,353.28 L512.25,353.87 L515.85,354.30 L521.25,354.75 L532.05,355.23 L548.25,355.50 L573.45,355.57 L402.45,355.57Z" fill="#fff" fill-opacity="0.45" stroke="none"/>
<path d="M402.45,355.49 L416.85,355.21 L427.65,354.72 L433.05,354.33 L438.45,353.82 L442.05,353.38 L445.65,352.77 L449.25,351.91 L452.85,350.67 L456.45,348.98 L458.25,347.97 L465.45,343.55 L467.25,342.62 L469.05,341.88 L470.85,341.39 L472.65,341.18 L474.45,341.22 L476.25,341.43 L478.05,341.79 L479.85,342.28 L483.45,343.61 L494.25,348.67 L499.65,350.86 L501.45,351.47 L505.05,352.49 L508.65,353.28 L512.25,353.87 L515.85,354.30 L521.25,354.75 L532.05,355.23 L548.25,355.50 L573.45,355.57 L402.45,355.57Z" fill="url(#g23)" stroke="none"/>
<path d="M402.45,355.49 L416.85,355.21 L427.65,354.72 L433.05,354.33 L438.45,353.82 L442.05,353.38 L445.65,352.77 L449.25,351.91 L452.85,350.67 L456.45,348.98 L458.25,347.97 L465.45,343.55 L467.25,342.62 L469.05,341.88 L470.85,341.39 L472.65,341.18 L474.45,341.22 L476.25,341.43 L478.05,341.79 L479.85,342.28 L483.45,343.61 L494.25,348.67 L499.65,350.86 L501.45,351.47 L505.05,352.49 L508.65,353.28 L512.25,353.87 L515.85,354.30 L521.25,354.75 L532.05,355.23 L548.25,355.50 L573.45,355.57" fill="none" stroke="#484848" stroke-width="0.9" stroke-linejoin="round"/>
<path d="M451.00,209.80 L631.00,209.80 L631.00,289.80 L568.00,361.80 L388.00,361.80 L388.00,281.80Z" fill="none" stroke="#161616" stroke-width="1.4" stroke-linejoin="miter"/>
<line x1="388" y1="361.8" x2="388" y2="364.8" stroke="#161616" stroke-width="1.1" />
<line x1="433" y1="361.8" x2="433" y2="364.8" stroke="#161616" stroke-width="1.1" />
<line x1="478" y1="361.8" x2="478" y2="364.8" stroke="#161616" stroke-width="1.1" />
<line x1="523" y1="361.8" x2="523" y2="364.8" stroke="#161616" stroke-width="1.1" />
<line x1="568" y1="361.8" x2="568" y2="364.8" stroke="#161616" stroke-width="1.1" />
<line x1="410.5" y1="361.8" x2="410.5" y2="363.6" stroke="#161616" stroke-width="1.1" />
<line x1="455.5" y1="361.8" x2="455.5" y2="363.6" stroke="#161616" stroke-width="1.1" />
<line x1="500.5" y1="361.8" x2="500.5" y2="363.6" stroke="#161616" stroke-width="1.1" />
<line x1="545.5" y1="361.8" x2="545.5" y2="363.6" stroke="#161616" stroke-width="1.1" />
<text stroke="#111" stroke-width="0.28" x="387.85" y="372.4" font-size="9.2" text-anchor="middle" font-weight="bold" fill="#111" >700</text>
<text stroke="#111" stroke-width="0.28" x="432.85" y="372.4" font-size="9.2" text-anchor="middle" font-weight="bold" fill="#111" >750</text>
<text stroke="#111" stroke-width="0.28" x="477.85" y="372.4" font-size="9.2" text-anchor="middle" font-weight="bold" fill="#111" >800</text>
<text stroke="#111" stroke-width="0.28" x="522.85" y="372.4" font-size="9.2" text-anchor="middle" font-weight="bold" fill="#111" >850</text>
<text stroke="#111" stroke-width="0.28" x="567.85" y="372.4" font-size="9.2" text-anchor="middle" font-weight="bold" fill="#111" >900</text>
<text stroke="#111" stroke-width="0.28" x="478.5" y="383" font-size="10" text-anchor="middle" font-weight="bold" fill="#111" >Wavelength (nm)</text>
<line x1="631" y1="289.8" x2="634" y2="289.8" stroke="#161616" stroke-width="1.1" />
<line x1="631" y1="269.8" x2="634" y2="269.8" stroke="#161616" stroke-width="1.1" />
<line x1="631" y1="249.8" x2="634" y2="249.8" stroke="#161616" stroke-width="1.1" />
<line x1="631" y1="229.8" x2="634" y2="229.8" stroke="#161616" stroke-width="1.1" />
<line x1="631" y1="209.8" x2="634" y2="209.8" stroke="#161616" stroke-width="1.1" />
<line x1="631" y1="279.8" x2="632.8" y2="279.8" stroke="#161616" stroke-width="1.1" />
<line x1="631" y1="259.8" x2="632.8" y2="259.8" stroke="#161616" stroke-width="1.1" />
<line x1="631" y1="239.8" x2="632.8" y2="239.8" stroke="#161616" stroke-width="1.1" />
<line x1="631" y1="219.8" x2="632.8" y2="219.8" stroke="#161616" stroke-width="1.1" />
<text stroke="#111" stroke-width="0.28" x="634.2" y="293.2" font-size="9.2" text-anchor="start" font-weight="bold" fill="#111" >0</text>
<text stroke="#111" stroke-width="0.28" x="634.2" y="273.2" font-size="9.2" text-anchor="start" font-weight="bold" fill="#111" >1</text>
<text stroke="#111" stroke-width="0.28" x="634.2" y="253.2" font-size="9.2" text-anchor="start" font-weight="bold" fill="#111" >2</text>
<text stroke="#111" stroke-width="0.28" x="634.2" y="233.2" font-size="9.2" text-anchor="start" font-weight="bold" fill="#111" >3</text>
<text stroke="#111" stroke-width="0.28" x="634.2" y="213.2" font-size="9.2" text-anchor="start" font-weight="bold" fill="#111" >4</text>
<line x1="570.85" y1="355.57" x2="573.45" y2="355.57" stroke="#161616" stroke-width="1.1" />
<text stroke="#111" stroke-width="0.28" x="580.95" y="360.77" font-size="9.2" text-anchor="start" font-weight="bold" fill="#111" >1.0</text>
<line x1="578.25" y1="347.11" x2="580.85" y2="347.11" stroke="#161616" stroke-width="1.1" />
<text stroke="#111" stroke-width="0.28" x="588.35" y="352.31" font-size="9.2" text-anchor="start" font-weight="bold" fill="#111" >2.5</text>
<line x1="585.65" y1="338.65" x2="588.25" y2="338.65" stroke="#161616" stroke-width="1.1" />
<text stroke="#111" stroke-width="0.28" x="595.75" y="343.85" font-size="9.2" text-anchor="start" font-weight="bold" fill="#111" >5.0</text>
<line x1="593.06" y1="330.19" x2="595.66" y2="330.19" stroke="#161616" stroke-width="1.1" />
<text stroke="#111" stroke-width="0.28" x="603.16" y="335.39" font-size="9.2" text-anchor="start" font-weight="bold" fill="#111" >10</text>
<line x1="600.46" y1="321.73" x2="603.06" y2="321.73" stroke="#161616" stroke-width="1.1" />
<text stroke="#111" stroke-width="0.28" x="610.56" y="326.93" font-size="9.2" text-anchor="start" font-weight="bold" fill="#111" >25</text>
<line x1="607.86" y1="313.27" x2="610.46" y2="313.27" stroke="#161616" stroke-width="1.1" />
<text stroke="#111" stroke-width="0.28" x="617.96" y="318.47" font-size="9.2" text-anchor="start" font-weight="bold" fill="#111" >50</text>
<line x1="615.26" y1="304.81" x2="617.86" y2="304.81" stroke="#161616" stroke-width="1.1" />
<text stroke="#111" stroke-width="0.28" x="625.36" y="310.01" font-size="9.2" text-anchor="start" font-weight="bold" fill="#111" >100</text>
<line x1="622.67" y1="296.35" x2="625.27" y2="296.35" stroke="#161616" stroke-width="1.1" />
<text stroke="#111" stroke-width="0.28" x="632.77" y="301.55" font-size="9.2" text-anchor="start" font-weight="bold" fill="#111" >250</text>
<text stroke="#111" stroke-width="0.28" x="598" y="386.1" font-size="10" font-weight="bold" fill="#111" transform="rotate(-50.01 598 386.1)">Concentration (μg mL<tspan dy="-3.5" font-size="6.5">-1</tspan><tspan dy="3.5">)</tspan></text>
<text stroke="#111" stroke-width="0.28" x="631.3" y="207.5" font-size="9.6" text-anchor="end" font-weight="bold" fill="#111" >×10<tspan dy='-3.9' font-size='6.8'>6</tspan></text>
<text stroke="#111" stroke-width="0.28" x="655.8" y="250" font-size="10" font-weight="bold" fill="#111" text-anchor="middle" transform="rotate(-90 655.8 250)">PL Intensity (arb. units)</text>
<text stroke="#111" stroke-width="0.28" x="120.3" y="237.5" font-size="10" text-anchor="start" font-weight="bold" fill="#111" >C5T-Pc</text>
<text stroke="#111" stroke-width="0.28" x="459.6" y="243.5" font-size="10" text-anchor="start" font-weight="bold" fill="#111" >C5T-Pco</text>
<line x1="170.5" y1="233" x2="170.5" y2="252" stroke="#222" stroke-width="1.15" stroke-dasharray="3.8,2.4"/>
<text stroke="#2b7be0" stroke-width="0.28" x="172.4" y="232.6" font-size="8" text-anchor="start" font-weight="bold" fill="#2b7be0" >809 nm</text>
<line x1="122.5" y1="329" x2="122.5" y2="347" stroke="#222" stroke-width="1.15" stroke-dasharray="3.8,2.4"/>
<text stroke="#2b7be0" stroke-width="0.28" x="123.5" y="333" font-size="8" text-anchor="start" font-weight="bold" fill="#2b7be0" >790 nm</text>
<line x1="535.3" y1="229.5" x2="535.3" y2="248.5" stroke="#222" stroke-width="1.15" stroke-dasharray="3.8,2.4"/>
<text stroke="#2b7be0" stroke-width="0.28" x="536.8" y="227.6" font-size="8" text-anchor="start" font-weight="bold" fill="#2b7be0" >810 nm</text>
<line x1="473.4" y1="334" x2="473.4" y2="351" stroke="#222" stroke-width="1.15" stroke-dasharray="3.8,2.4"/>
<text stroke="#2b7be0" stroke-width="0.28" x="474.2" y="336.1" font-size="8" text-anchor="start" font-weight="bold" fill="#2b7be0" >790 nm</text>
<svg x="36.4" y="410.5" width="179.5" height="149.6" viewBox="36.4 410.5 179.5 149.6" overflow="hidden">
<path d="M36.40,550.58 L40.59,550.39 L44.78,550.03 L50.16,549.42 L53.75,548.89 L77.09,544.34 L82.47,543.13 L86.66,541.92 L89.65,540.71 L92.64,539.08 L96.23,536.79 L104.61,531.20 L108.20,528.98 L111.19,527.27 L113.59,526.04 L115.98,524.95 L123.16,522.25 L124.95,521.50 L126.75,520.45 L128.54,518.89 L129.74,517.44 L130.34,516.56 L131.53,514.42 L132.13,513.16 L133.33,510.21 L135.12,504.77 L137.52,496.02 L140.51,483.44 L142.90,472.12 L147.69,447.83 L149.49,439.62 L150.68,434.83 L152.48,428.93 L153.67,425.95 L154.87,423.84 L155.47,423.14 L156.07,422.70 L156.67,422.52 L157.26,422.61 L157.86,422.97 L158.46,423.60 L159.06,424.50 L159.66,425.65 L160.25,427.05 L161.45,430.53 L163.25,437.32 L165.04,445.72 L166.84,455.36 L169.23,469.42 L174.62,502.44 L177.01,515.61 L178.80,523.98 L180.00,528.77 L181.80,534.77 L183.59,539.39 L185.39,542.78 L186.58,544.46 L187.78,545.79 L188.98,546.84 L190.17,547.68 L191.37,548.35 L193.16,549.13 L194.96,549.72 L196.75,550.17 L200.94,550.84 L208.12,551.44 L215.90,551.76" fill="none" stroke="#383838" stroke-width="1.1" stroke-linejoin="round"/>
<path d="M36.40,550.58 L40.59,550.39 L44.78,550.03 L50.16,549.42 L53.75,548.89 L77.09,544.34 L82.47,543.13 L86.66,541.92 L89.65,540.71 L92.64,539.09 L104.61,531.23 L110.59,527.67 L113.59,526.12 L115.98,525.03 L123.16,522.35 L124.95,521.59 L126.75,520.54 L128.54,518.98 L129.74,517.53 L130.94,515.65 L132.73,511.88 L134.53,506.88 L136.32,500.82 L138.72,491.65 L141.11,481.50 L148.29,447.73 L150.08,440.52 L151.28,436.44 L152.48,433.03 L153.08,431.58 L154.27,429.26 L154.87,428.41 L155.47,427.78 L156.07,427.38 L156.67,427.21 L157.26,427.30 L157.86,427.63 L158.46,428.21 L159.06,429.03 L160.25,431.35 L160.85,432.83 L162.05,436.42 L163.84,443.20 L165.64,451.43 L168.03,464.07 L174.62,502.84 L177.01,515.79 L178.80,524.08 L180.00,528.83 L181.80,534.80 L183.59,539.40 L185.39,542.78 L186.58,544.46 L187.78,545.79 L188.98,546.84 L190.17,547.68 L191.37,548.35 L193.16,549.13 L194.96,549.72 L196.75,550.17 L200.94,550.84 L208.12,551.44 L215.90,551.76" fill="none" stroke="#f04c4c" stroke-width="1.2" stroke-linejoin="round"/>
<path d="M36.40,550.58 L40.59,550.39 L44.78,550.03 L50.16,549.42 L53.75,548.89 L77.09,544.34 L82.47,543.13 L86.66,541.92 L89.65,540.71 L92.64,539.09 L104.61,531.25 L110.59,527.71 L113.59,526.17 L115.98,525.09 L123.16,522.41 L124.95,521.65 L126.75,520.60 L128.54,519.04 L129.74,517.59 L130.94,515.72 L132.73,511.96 L134.53,507.00 L136.32,501.00 L138.72,491.96 L141.11,482.05 L147.69,452.14 L149.49,444.98 L150.68,440.86 L152.48,435.85 L153.67,433.34 L154.87,431.56 L155.47,430.97 L156.07,430.60 L156.67,430.45 L157.26,430.53 L157.86,430.84 L158.46,431.38 L159.06,432.15 L160.25,434.31 L160.85,435.70 L162.05,439.06 L163.84,445.44 L165.64,453.23 L168.03,465.32 L170.43,478.67 L175.21,506.47 L177.61,518.81 L179.40,526.59 L180.60,531.01 L182.39,536.49 L184.19,540.66 L185.98,543.68 L187.18,545.17 L188.38,546.35 L189.57,547.28 L190.77,548.03 L191.97,548.64 L193.76,549.35 L195.56,549.88 L197.35,550.29 L201.54,550.91 L208.72,551.47 L215.90,551.76" fill="none" stroke="#2a70dc" stroke-width="1.2" stroke-linejoin="round"/>
<path d="M36.40,550.58 L40.59,550.39 L44.78,550.03 L50.16,549.42 L53.75,548.89 L77.09,544.34 L82.47,543.13 L86.66,541.92 L89.65,540.71 L92.64,539.09 L104.61,531.27 L108.20,529.09 L111.19,527.41 L113.59,526.20 L115.98,525.12 L123.16,522.44 L124.95,521.68 L126.75,520.63 L127.94,519.66 L129.14,518.40 L130.34,516.75 L131.53,514.64 L132.13,513.39 L133.93,508.83 L135.72,503.17 L138.12,494.44 L140.51,484.84 L147.69,453.02 L149.49,446.07 L150.68,442.10 L152.48,437.26 L153.67,434.85 L154.87,433.14 L155.47,432.57 L156.07,432.22 L156.67,432.07 L157.26,432.15 L157.86,432.45 L158.46,432.97 L159.06,433.71 L160.25,435.80 L160.85,437.14 L162.05,440.38 L163.84,446.56 L165.64,454.13 L168.03,465.94 L170.43,479.06 L175.21,506.59 L177.61,518.86 L179.40,526.61 L180.60,531.02 L182.39,536.50 L184.19,540.67 L185.98,543.68 L187.18,545.17 L188.38,546.35 L189.57,547.28 L190.77,548.03 L191.97,548.64 L193.76,549.35 L195.56,549.88 L197.35,550.29 L201.54,550.91 L208.72,551.47 L215.90,551.76" fill="none" stroke="#34a865" stroke-width="1.2" stroke-linejoin="round"/>
<path d="M36.40,550.58 L40.59,550.39 L44.78,550.03 L50.16,549.42 L53.75,548.89 L77.09,544.34 L82.47,543.13 L86.66,541.92 L89.65,540.72 L92.64,539.09 L104.01,531.66 L107.60,529.46 L110.59,527.77 L113.59,526.23 L115.98,525.16 L123.16,522.49 L124.95,521.72 L126.75,520.67 L127.94,519.71 L129.14,518.44 L130.34,516.79 L131.53,514.69 L132.13,513.44 L133.93,508.90 L135.72,503.27 L138.12,494.62 L140.51,485.17 L147.69,454.20 L149.49,447.55 L150.68,443.76 L152.48,439.17 L153.67,436.88 L154.87,435.27 L155.47,434.73 L156.07,434.39 L156.67,434.26 L157.26,434.34 L157.86,434.62 L158.46,435.11 L159.06,435.81 L160.25,437.80 L160.85,439.07 L162.05,442.16 L163.25,445.93 L164.44,450.35 L166.24,458.04 L168.63,469.88 L175.21,506.74 L177.61,518.93 L179.40,526.65 L180.60,531.05 L182.39,536.51 L184.19,540.67 L185.98,543.68 L187.18,545.17 L188.38,546.35 L189.57,547.28 L190.77,548.03 L191.97,548.64 L193.76,549.35 L195.56,549.88 L197.35,550.29 L201.54,550.91 L208.72,551.47 L215.90,551.76" fill="none" stroke="#b07cf0" stroke-width="1.2" stroke-linejoin="round"/>
</svg>
<line x1="156.84" y1="414" x2="156.84" y2="552.4" stroke="#f37272" stroke-width="1.7" stroke-dasharray="5.8,2.9"/>
<rect x="36.4" y="410.5" width="179.5" height="149.6" fill="none" stroke="#222" stroke-width="1.3"/>
<line x1="36.4" y1="560.1" x2="36.4" y2="562.9" stroke="#222" stroke-width="1.1" />
<text stroke="#111" stroke-width="0.28" x="36.25" y="573.3" font-size="9.2" text-anchor="middle" font-weight="bold" fill="#111" >550</text>
<line x1="66.32" y1="560.1" x2="66.32" y2="562.9" stroke="#222" stroke-width="1.1" />
<text stroke="#111" stroke-width="0.28" x="66.17" y="573.3" font-size="9.2" text-anchor="middle" font-weight="bold" fill="#111" >600</text>
<line x1="96.23" y1="560.1" x2="96.23" y2="562.9" stroke="#222" stroke-width="1.1" />
<text stroke="#111" stroke-width="0.28" x="96.08" y="573.3" font-size="9.2" text-anchor="middle" font-weight="bold" fill="#111" >650</text>
<line x1="126.15" y1="560.1" x2="126.15" y2="562.9" stroke="#222" stroke-width="1.1" />
<text stroke="#111" stroke-width="0.28" x="126" y="573.3" font-size="9.2" text-anchor="middle" font-weight="bold" fill="#111" >700</text>
<line x1="156.07" y1="560.1" x2="156.07" y2="562.9" stroke="#222" stroke-width="1.1" />
<text stroke="#111" stroke-width="0.28" x="155.92" y="573.3" font-size="9.2" text-anchor="middle" font-weight="bold" fill="#111" >750</text>
<line x1="185.98" y1="560.1" x2="185.98" y2="562.9" stroke="#222" stroke-width="1.1" />
<text stroke="#111" stroke-width="0.28" x="185.83" y="573.3" font-size="9.2" text-anchor="middle" font-weight="bold" fill="#111" >800</text>
<line x1="215.9" y1="560.1" x2="215.9" y2="562.9" stroke="#222" stroke-width="1.1" />
<text stroke="#111" stroke-width="0.28" x="215.75" y="573.3" font-size="9.2" text-anchor="middle" font-weight="bold" fill="#111" >850</text>
<line x1="51.36" y1="560.1" x2="51.36" y2="561.9" stroke="#222" stroke-width="1.1" />
<line x1="81.28" y1="560.1" x2="81.28" y2="561.9" stroke="#222" stroke-width="1.1" />
<line x1="111.19" y1="560.1" x2="111.19" y2="561.9" stroke="#222" stroke-width="1.1" />
<line x1="141.11" y1="560.1" x2="141.11" y2="561.9" stroke="#222" stroke-width="1.1" />
<line x1="171.03" y1="560.1" x2="171.03" y2="561.9" stroke="#222" stroke-width="1.1" />
<line x1="200.94" y1="560.1" x2="200.94" y2="561.9" stroke="#222" stroke-width="1.1" />
<line x1="32.9" y1="551.79" x2="36.4" y2="551.79" stroke="#222" stroke-width="1.1" />
<text stroke="#111" stroke-width="0.28" x="29.9" y="554.99" font-size="9.2" text-anchor="end" font-weight="bold" fill="#111" >0.0</text>
<line x1="32.9" y1="518.54" x2="36.4" y2="518.54" stroke="#222" stroke-width="1.1" />
<text stroke="#111" stroke-width="0.28" x="29.9" y="521.74" font-size="9.2" text-anchor="end" font-weight="bold" fill="#111" >0.4</text>
<line x1="32.9" y1="485.3" x2="36.4" y2="485.3" stroke="#222" stroke-width="1.1" />
<text stroke="#111" stroke-width="0.28" x="29.9" y="488.5" font-size="9.2" text-anchor="end" font-weight="bold" fill="#111" >0.8</text>
<line x1="32.9" y1="452.06" x2="36.4" y2="452.06" stroke="#222" stroke-width="1.1" />
<text stroke="#111" stroke-width="0.28" x="29.9" y="455.26" font-size="9.2" text-anchor="end" font-weight="bold" fill="#111" >1.2</text>
<line x1="32.9" y1="418.81" x2="36.4" y2="418.81" stroke="#222" stroke-width="1.1" />
<text stroke="#111" stroke-width="0.28" x="29.9" y="422.01" font-size="9.2" text-anchor="end" font-weight="bold" fill="#111" >1.6</text>
<line x1="34.4" y1="535.17" x2="36.4" y2="535.17" stroke="#222" stroke-width="1.1" />
<line x1="34.4" y1="501.92" x2="36.4" y2="501.92" stroke="#222" stroke-width="1.1" />
<line x1="34.4" y1="468.68" x2="36.4" y2="468.68" stroke="#222" stroke-width="1.1" />
<line x1="34.4" y1="435.43" x2="36.4" y2="435.43" stroke="#222" stroke-width="1.1" />
<text stroke="#111" stroke-width="0.28" x="126.65" y="583.7" font-size="10" text-anchor="middle" font-weight="bold" fill="#111" >Wavelength (nm)</text>
<text stroke="#111" stroke-width="0.28" x="14.4" y="484.7" font-size="9.8" font-weight="bold" fill="#111" text-anchor="middle" transform="rotate(-90 14.4 484.7)">Absorbance</text>
<text stroke="#111" stroke-width="0.28" x="41.8" y="423.1" font-size="10" text-anchor="start" font-weight="bold" fill="#111" >C5T-Pco EtOH</text>
<text stroke="#111" stroke-width="0.28" x="41.8" y="435.5" font-size="10" text-anchor="start" font-weight="bold" fill="#111" >Time (min)</text>
<line x1="41.8" y1="444.6" x2="63.6" y2="444.6" stroke="#383838" stroke-width="1.0" />
<text stroke="#111" stroke-width="0.28" x="66.7" y="448.2" font-size="10" text-anchor="start" font-weight="bold" fill="#111" >0</text>
<line x1="41.8" y1="456.9" x2="63.6" y2="456.9" stroke="#f04c4c" stroke-width="1.4" />
<text stroke="#111" stroke-width="0.28" x="66.7" y="460.5" font-size="10" text-anchor="start" font-weight="bold" fill="#111" >5</text>
<line x1="41.8" y1="469.2" x2="63.6" y2="469.2" stroke="#2a70dc" stroke-width="1.4" />
<text stroke="#111" stroke-width="0.28" x="66.7" y="472.8" font-size="10" text-anchor="start" font-weight="bold" fill="#111" >10</text>
<line x1="41.8" y1="481.5" x2="63.6" y2="481.5" stroke="#34a865" stroke-width="1.4" />
<text stroke="#111" stroke-width="0.28" x="66.7" y="485.1" font-size="10" text-anchor="start" font-weight="bold" fill="#111" >15</text>
<line x1="41.8" y1="493.8" x2="63.6" y2="493.8" stroke="#b07cf0" stroke-width="1.4" />
<text stroke="#111" stroke-width="0.28" x="66.7" y="497.4" font-size="10" text-anchor="start" font-weight="bold" fill="#111" >20</text>
<svg x="266.7" y="410.5" width="179.8" height="149.6" viewBox="266.7 410.5 179.8 149.6" overflow="hidden">
<path d="M266.70,543.36 L267.90,543.10 L269.70,542.55 L281.08,538.73 L283.48,537.84 L285.28,537.06 L287.08,536.10 L288.88,534.88 L290.67,533.33 L293.07,530.81 L295.47,527.90 L297.87,524.61 L299.66,521.73 L301.46,518.44 L304.46,512.32 L308.65,503.25 L315.25,487.48 L317.64,482.23 L320.04,477.61 L323.04,472.29 L325.43,468.35 L327.83,464.74 L330.83,460.76 L335.02,455.86 L337.42,453.37 L339.82,451.36 L341.62,450.28 L344.61,449.10 L348.21,448.07 L351.21,447.60 L353.60,447.56 L356.00,447.82 L359.60,448.57 L361.99,449.26 L363.79,449.99 L368.59,452.41 L370.98,453.44 L373.98,454.38 L380.57,456.07 L384.17,457.32 L387.17,458.87 L388.96,460.07 L390.76,461.47 L391.96,462.54 L393.16,463.78 L394.36,465.22 L396.16,467.69 L402.15,476.73 L409.34,488.44 L412.34,493.09 L419.53,503.50 L422.53,507.59 L424.92,510.66 L427.32,513.50 L429.72,516.07 L433.31,519.66 L436.31,522.45 L439.31,525.02 L442.30,527.36 L444.70,529.01 L446.50,529.88" fill="none" stroke="#383838" stroke-width="1.1" stroke-linejoin="round"/>
<path d="M266.70,542.52 L268.50,542.04 L276.89,539.25 L284.08,537.21 L287.68,535.88 L290.07,534.70 L293.07,532.90 L296.07,530.81 L299.06,528.51 L302.06,526.05 L304.46,523.92 L306.86,521.54 L309.25,518.94 L320.04,506.27 L330.23,493.52 L333.83,489.48 L338.02,485.29 L341.02,482.59 L344.01,480.29 L347.61,478.00 L349.41,477.02 L350.61,476.48 L351.81,476.06 L353.60,475.65 L356.60,475.25 L372.18,473.73 L379.97,472.60 L385.97,471.53 L387.77,471.29 L390.16,471.23 L391.96,471.46 L394.96,472.26 L398.55,473.54 L400.95,474.65 L403.95,476.39 L406.34,478.06 L408.14,479.57 L414.14,485.27 L421.33,491.63 L424.32,494.73 L427.32,498.45 L433.91,507.60 L441.71,517.78 L444.70,521.59 L445.90,522.86 L446.50,523.32" fill="none" stroke="#f04c4c" stroke-width="1.3" stroke-linejoin="round"/>
<path d="M266.70,540.93 L268.50,540.57 L276.89,538.48 L284.08,536.96 L286.48,536.32 L288.28,535.72 L290.67,534.73 L293.67,533.19 L296.67,531.42 L300.86,528.68 L303.86,526.59 L306.86,524.26 L309.85,521.68 L313.45,518.38 L321.24,510.95 L332.03,499.92 L339.22,492.72 L341.62,490.45 L343.41,488.95 L345.21,487.64 L347.61,486.10 L349.41,485.08 L351.21,484.25 L352.40,483.81 L356.00,482.89 L364.39,481.47 L375.18,479.80 L382.97,478.08 L388.96,477.30 L391.36,477.18 L393.16,477.29 L394.96,477.66 L397.35,478.51 L402.15,480.71 L404.55,482.00 L407.54,483.93 L411.14,486.63 L414.74,489.93 L425.52,500.81 L429.12,504.63 L432.72,508.70 L436.91,513.68 L445.30,524.34 L446.50,525.45" fill="none" stroke="#2a70dc" stroke-width="1.3" stroke-linejoin="round"/>
<path d="M266.70,540.13 L276.29,538.08 L285.28,536.55 L288.88,535.60 L291.27,534.69 L294.27,533.27 L297.27,531.65 L303.86,527.85 L307.45,525.64 L311.05,523.24 L314.65,520.67 L318.24,517.92 L320.64,515.94 L323.04,513.79 L332.03,505.18 L341.02,497.01 L342.82,495.57 L345.21,493.92 L347.61,492.49 L350.01,491.26 L353.00,490.14 L356.60,489.31 L364.39,488.00 L372.78,486.78 L375.78,486.22 L377.58,485.79 L382.37,484.29 L385.97,483.33 L388.96,482.65 L390.76,482.41 L392.56,482.39 L394.96,482.77 L397.35,483.54 L400.35,484.78 L402.75,485.94 L404.55,487.02 L406.34,488.28 L409.34,490.60 L413.54,494.14 L429.12,508.43 L432.72,512.04 L436.91,516.47 L445.30,525.90 L446.50,526.89" fill="none" stroke="#34a865" stroke-width="1.3" stroke-linejoin="round"/>
<path d="M266.70,539.60 L276.29,537.80 L285.28,536.50 L287.68,535.99 L289.47,535.48 L291.87,534.61 L294.87,533.28 L309.85,525.73 L312.85,524.06 L315.85,522.24 L318.24,520.63 L320.64,518.79 L324.24,515.55 L330.23,509.61 L333.23,506.78 L338.62,502.06 L341.62,499.62 L343.41,498.34 L345.21,497.21 L347.61,495.90 L350.01,494.76 L353.00,493.67 L357.20,492.63 L374.58,489.21 L382.97,487.33 L387.17,486.59 L390.16,486.22 L392.56,486.19 L394.36,486.42 L396.76,487.05 L399.15,487.90 L402.15,489.10 L404.55,490.25 L407.54,492.00 L410.54,494.04 L412.34,495.44 L414.14,497.02 L426.72,508.86 L435.11,516.99 L444.70,526.65 L445.90,527.68 L446.50,528.05" fill="none" stroke="#b07cf0" stroke-width="1.3" stroke-linejoin="round"/>
</svg>
<line x1="352.7" y1="438.7" x2="352.7" y2="523.2" stroke="#f37272" stroke-width="1.7" stroke-dasharray="5.8,2.9"/>
<rect x="266.7" y="410.5" width="179.8" height="149.6" fill="none" stroke="#222" stroke-width="1.3"/>
<line x1="266.7" y1="560.1" x2="266.7" y2="562.9" stroke="#222" stroke-width="1.1" />
<text stroke="#111" stroke-width="0.28" x="266.55" y="573.3" font-size="9.2" text-anchor="middle" font-weight="bold" fill="#111" >550</text>
<line x1="296.67" y1="560.1" x2="296.67" y2="562.9" stroke="#222" stroke-width="1.1" />
<text stroke="#111" stroke-width="0.28" x="296.52" y="573.3" font-size="9.2" text-anchor="middle" font-weight="bold" fill="#111" >600</text>
<line x1="326.63" y1="560.1" x2="326.63" y2="562.9" stroke="#222" stroke-width="1.1" />
<text stroke="#111" stroke-width="0.28" x="326.48" y="573.3" font-size="9.2" text-anchor="middle" font-weight="bold" fill="#111" >650</text>
<line x1="356.6" y1="560.1" x2="356.6" y2="562.9" stroke="#222" stroke-width="1.1" />
<text stroke="#111" stroke-width="0.28" x="356.45" y="573.3" font-size="9.2" text-anchor="middle" font-weight="bold" fill="#111" >700</text>
<line x1="386.57" y1="560.1" x2="386.57" y2="562.9" stroke="#222" stroke-width="1.1" />
<text stroke="#111" stroke-width="0.28" x="386.42" y="573.3" font-size="9.2" text-anchor="middle" font-weight="bold" fill="#111" >750</text>
<line x1="416.53" y1="560.1" x2="416.53" y2="562.9" stroke="#222" stroke-width="1.1" />
<text stroke="#111" stroke-width="0.28" x="416.38" y="573.3" font-size="9.2" text-anchor="middle" font-weight="bold" fill="#111" >800</text>
<line x1="446.5" y1="560.1" x2="446.5" y2="562.9" stroke="#222" stroke-width="1.1" />
<text stroke="#111" stroke-width="0.28" x="446.35" y="573.3" font-size="9.2" text-anchor="middle" font-weight="bold" fill="#111" >850</text>
<line x1="281.68" y1="560.1" x2="281.68" y2="561.9" stroke="#222" stroke-width="1.1" />
<line x1="311.65" y1="560.1" x2="311.65" y2="561.9" stroke="#222" stroke-width="1.1" />
<line x1="341.62" y1="560.1" x2="341.62" y2="561.9" stroke="#222" stroke-width="1.1" />
<line x1="371.58" y1="560.1" x2="371.58" y2="561.9" stroke="#222" stroke-width="1.1" />
<line x1="401.55" y1="560.1" x2="401.55" y2="561.9" stroke="#222" stroke-width="1.1" />
<line x1="431.52" y1="560.1" x2="431.52" y2="561.9" stroke="#222" stroke-width="1.1" />
<line x1="263.2" y1="546.5" x2="266.7" y2="546.5" stroke="#222" stroke-width="1.1" />
<text stroke="#111" stroke-width="0.28" x="260.2" y="549.7" font-size="9.2" text-anchor="end" font-weight="bold" fill="#111" >0.0</text>
<line x1="263.2" y1="519.3" x2="266.7" y2="519.3" stroke="#222" stroke-width="1.1" />
<text stroke="#111" stroke-width="0.28" x="260.2" y="522.5" font-size="9.2" text-anchor="end" font-weight="bold" fill="#111" >0.1</text>
<line x1="263.2" y1="492.1" x2="266.7" y2="492.1" stroke="#222" stroke-width="1.1" />
<text stroke="#111" stroke-width="0.28" x="260.2" y="495.3" font-size="9.2" text-anchor="end" font-weight="bold" fill="#111" >0.2</text>
<line x1="263.2" y1="464.9" x2="266.7" y2="464.9" stroke="#222" stroke-width="1.1" />
<text stroke="#111" stroke-width="0.28" x="260.2" y="468.1" font-size="9.2" text-anchor="end" font-weight="bold" fill="#111" >0.3</text>
<line x1="263.2" y1="437.7" x2="266.7" y2="437.7" stroke="#222" stroke-width="1.1" />
<text stroke="#111" stroke-width="0.28" x="260.2" y="440.9" font-size="9.2" text-anchor="end" font-weight="bold" fill="#111" >0.4</text>
<line x1="263.2" y1="410.5" x2="266.7" y2="410.5" stroke="#222" stroke-width="1.1" />
<text stroke="#111" stroke-width="0.28" x="260.2" y="413.7" font-size="9.2" text-anchor="end" font-weight="bold" fill="#111" >0.5</text>
<line x1="264.7" y1="532.9" x2="266.7" y2="532.9" stroke="#222" stroke-width="1.1" />
<line x1="264.7" y1="505.7" x2="266.7" y2="505.7" stroke="#222" stroke-width="1.1" />
<line x1="264.7" y1="478.5" x2="266.7" y2="478.5" stroke="#222" stroke-width="1.1" />
<line x1="264.7" y1="451.3" x2="266.7" y2="451.3" stroke="#222" stroke-width="1.1" />
<line x1="264.7" y1="424.1" x2="266.7" y2="424.1" stroke="#222" stroke-width="1.1" />
<text stroke="#111" stroke-width="0.28" x="357.1" y="583.7" font-size="10" text-anchor="middle" font-weight="bold" fill="#111" >Wavelength (nm)</text>
<text stroke="#111" stroke-width="0.28" x="244.7" y="484.7" font-size="9.8" font-weight="bold" fill="#111" text-anchor="middle" transform="rotate(-90 244.7 484.7)">Absorbance</text>
<text stroke="#111" stroke-width="0.28" x="272.1" y="423.4" font-size="10" text-anchor="start" font-weight="bold" fill="#111" >C5T-Pc EtOH/H<tspan dy='2.5' font-size='7'>2</tspan><tspan dy='-2.5'>O</tspan></text>
<text stroke="#111" stroke-width="0.28" x="272.1" y="438" font-size="10" text-anchor="start" font-weight="bold" fill="#111" >Time (min)</text>
<line x1="272.1" y1="446.7" x2="293.9" y2="446.7" stroke="#383838" stroke-width="1.0" />
<text stroke="#111" stroke-width="0.28" x="297" y="450.3" font-size="10" text-anchor="start" font-weight="bold" fill="#111" >0</text>
<line x1="272.1" y1="459" x2="293.9" y2="459" stroke="#f04c4c" stroke-width="1.4" />
<text stroke="#111" stroke-width="0.28" x="297" y="462.6" font-size="10" text-anchor="start" font-weight="bold" fill="#111" >5</text>
<line x1="272.1" y1="471.3" x2="293.9" y2="471.3" stroke="#2a70dc" stroke-width="1.4" />
<text stroke="#111" stroke-width="0.28" x="297" y="474.9" font-size="10" text-anchor="start" font-weight="bold" fill="#111" >10</text>
<line x1="272.1" y1="483.6" x2="293.9" y2="483.6" stroke="#34a865" stroke-width="1.4" />
<text stroke="#111" stroke-width="0.28" x="297" y="487.2" font-size="10" text-anchor="start" font-weight="bold" fill="#111" >15</text>
<line x1="272.1" y1="495.9" x2="293.9" y2="495.9" stroke="#b07cf0" stroke-width="1.4" />
<text stroke="#111" stroke-width="0.28" x="297" y="499.5" font-size="10" text-anchor="start" font-weight="bold" fill="#111" >20</text>
<svg x="497" y="410.5" width="180.6" height="149.6" viewBox="497 410.5 180.6 149.6" overflow="hidden">
<path d="M497.00,539.84 L499.41,539.12 L506.63,536.26 L524.69,528.90 L534.93,524.84 L540.34,522.48 L543.96,520.67 L546.97,518.82 L549.98,516.58 L556.60,511.28 L559.01,509.60 L560.81,508.54 L562.62,507.70 L565.03,506.85 L567.43,506.21 L574.06,504.72 L575.86,504.19 L577.67,503.53 L579.47,502.65 L580.68,501.90 L581.88,501.00 L583.69,499.42 L585.49,497.58 L587.30,495.49 L589.11,493.07 L590.31,491.24 L592.12,488.16 L593.32,485.89 L595.13,482.11 L596.33,479.28 L598.14,474.32 L599.34,470.43 L600.54,466.09 L602.95,456.52 L606.56,441.19 L607.77,436.99 L608.37,435.33 L608.97,433.98 L609.57,432.93 L610.18,432.20 L610.78,431.77 L611.38,431.66 L611.98,431.85 L612.58,432.32 L613.19,433.05 L614.39,435.10 L615.59,437.84 L616.20,439.48 L617.40,443.36 L618.60,448.17 L619.81,454.01 L625.23,485.80 L627.63,498.40 L630.04,509.89 L631.85,517.13 L633.65,522.68 L635.46,526.88 L637.87,531.38 L639.67,534.14 L640.88,535.68 L642.08,536.96 L643.29,538.00 L644.49,538.84 L646.30,539.85 L648.70,540.96 L651.11,541.90 L653.52,542.67 L655.93,543.28 L660.74,544.10 L669.77,545.04 L673.99,545.29 L677.60,545.36" fill="none" stroke="#383838" stroke-width="1.1" stroke-linejoin="round"/>
<path d="M497.00,541.30 L498.20,541.09 L500.61,540.48 L509.04,538.03 L517.47,535.35 L525.29,532.67 L533.72,529.42 L551.18,522.30 L559.01,518.97 L563.22,517.38 L565.63,516.65 L568.04,516.09 L575.86,514.93 L578.87,514.36 L581.28,513.60 L582.48,513.02 L583.69,512.25 L586.10,510.21 L587.90,508.31 L589.11,506.86 L590.31,505.21 L591.51,503.31 L593.92,498.78 L596.93,492.05 L599.34,485.93 L601.15,480.57 L604.76,468.74 L606.56,463.72 L607.77,460.90 L608.97,458.56 L609.57,457.64 L610.18,456.93 L610.78,456.47 L611.38,456.25 L611.98,456.28 L612.58,456.54 L613.19,457.00 L614.39,458.44 L615.59,460.59 L616.80,463.52 L618.60,469.21 L620.41,475.87 L622.22,483.28 L625.83,499.51 L627.03,504.56 L628.24,509.13 L630.04,515.20 L632.45,522.26 L634.26,526.72 L635.46,529.21 L636.66,531.35 L639.07,534.93 L640.28,536.46 L641.48,537.80 L643.29,539.37 L644.49,540.11 L645.69,540.64 L648.70,541.50 L653.52,542.40 L658.94,543.01 L669.17,543.74 L677.60,543.98" fill="none" stroke="#f04c4c" stroke-width="1.3" stroke-linejoin="round"/>
<path d="M497.00,542.92 L500.01,542.33 L528.30,535.39 L562.02,526.90 L568.64,525.44 L575.86,524.22 L578.87,523.59 L581.28,522.85 L583.09,522.03 L585.49,520.49 L588.50,517.96 L591.51,514.87 L593.92,511.76 L596.33,507.88 L599.94,501.09 L602.35,496.10 L605.96,487.93 L607.17,485.59 L608.37,483.63 L609.57,482.14 L610.18,481.62 L610.78,481.27 L611.38,481.11 L611.98,481.13 L612.58,481.32 L613.19,481.66 L614.39,482.76 L615.59,484.46 L616.80,486.84 L618.60,491.52 L620.41,496.94 L622.22,502.83 L625.83,515.34 L627.03,519.09 L628.24,522.41 L630.04,526.67 L632.45,531.44 L634.26,534.29 L636.06,536.43 L638.47,538.50 L641.48,540.49 L643.29,541.42 L644.49,541.93 L645.69,542.34 L647.50,542.79 L654.72,543.88 L662.55,544.71 L670.38,545.21 L677.60,545.37" fill="none" stroke="#2a70dc" stroke-width="1.3" stroke-linejoin="round"/>
<path d="M497.00,543.88 L501.21,543.23 L516.87,540.31 L530.71,537.57 L543.96,534.82 L577.07,527.48 L581.28,526.35 L584.29,525.30 L586.70,524.22 L589.11,522.87 L591.51,521.24 L593.92,519.25 L595.73,517.30 L596.93,515.70 L602.35,507.33 L603.55,505.70 L605.36,503.51 L607.17,501.51 L608.97,499.91 L610.18,499.25 L611.38,499.00 L612.58,499.18 L613.79,499.77 L614.99,500.84 L615.59,501.62 L616.20,502.58 L617.40,505.00 L621.01,513.69 L625.23,523.11 L627.03,526.84 L628.24,529.07 L630.04,531.94 L631.85,534.24 L634.86,537.31 L637.27,539.30 L639.67,540.81 L642.08,541.83 L646.30,543.03 L651.11,544.03 L657.13,544.88 L665.56,545.69 L672.18,546.14 L677.60,546.29" fill="none" stroke="#34a865" stroke-width="1.3" stroke-linejoin="round"/>
<path d="M497.00,546.22 L505.43,545.23 L526.50,542.46 L559.61,537.69 L565.63,537.00 L579.47,535.81 L583.09,535.33 L586.10,534.75 L587.90,534.17 L589.11,533.62 L590.31,532.94 L592.12,531.73 L595.13,529.43 L597.53,527.42 L603.55,521.45 L605.96,519.39 L607.77,518.06 L608.97,517.33 L610.18,516.83 L611.38,516.64 L611.98,516.66 L613.19,516.92 L614.39,517.46 L615.59,518.36 L616.80,519.70 L618.60,522.45 L620.41,525.73 L621.61,528.15 L624.62,534.73 L626.43,538.07 L627.63,539.71 L628.84,540.93 L630.64,542.29 L632.45,543.31 L634.26,544.04 L636.66,544.64 L640.28,545.20 L645.09,545.72 L651.71,546.18 L663.75,546.83 L670.98,547.11 L677.60,547.21" fill="none" stroke="#b07cf0" stroke-width="1.3" stroke-linejoin="round"/>
</svg>
<line x1="611.38" y1="422" x2="611.38" y2="539.7" stroke="#f37272" stroke-width="1.7" stroke-dasharray="5.8,2.9"/>
<rect x="497" y="410.5" width="180.6" height="149.6" fill="none" stroke="#222" stroke-width="1.3"/>
<line x1="497" y1="560.1" x2="497" y2="562.9" stroke="#222" stroke-width="1.1" />
<text stroke="#111" stroke-width="0.28" x="496.85" y="573.3" font-size="9.2" text-anchor="middle" font-weight="bold" fill="#111" >550</text>
<line x1="527.1" y1="560.1" x2="527.1" y2="562.9" stroke="#222" stroke-width="1.1" />
<text stroke="#111" stroke-width="0.28" x="526.95" y="573.3" font-size="9.2" text-anchor="middle" font-weight="bold" fill="#111" >600</text>
<line x1="557.2" y1="560.1" x2="557.2" y2="562.9" stroke="#222" stroke-width="1.1" />
<text stroke="#111" stroke-width="0.28" x="557.05" y="573.3" font-size="9.2" text-anchor="middle" font-weight="bold" fill="#111" >650</text>
<line x1="587.3" y1="560.1" x2="587.3" y2="562.9" stroke="#222" stroke-width="1.1" />
<text stroke="#111" stroke-width="0.28" x="587.15" y="573.3" font-size="9.2" text-anchor="middle" font-weight="bold" fill="#111" >700</text>
<line x1="617.4" y1="560.1" x2="617.4" y2="562.9" stroke="#222" stroke-width="1.1" />
<text stroke="#111" stroke-width="0.28" x="617.25" y="573.3" font-size="9.2" text-anchor="middle" font-weight="bold" fill="#111" >750</text>
<line x1="647.5" y1="560.1" x2="647.5" y2="562.9" stroke="#222" stroke-width="1.1" />
<text stroke="#111" stroke-width="0.28" x="647.35" y="573.3" font-size="9.2" text-anchor="middle" font-weight="bold" fill="#111" >800</text>
<line x1="677.6" y1="560.1" x2="677.6" y2="562.9" stroke="#222" stroke-width="1.1" />
<text stroke="#111" stroke-width="0.28" x="677.45" y="573.3" font-size="9.2" text-anchor="middle" font-weight="bold" fill="#111" >850</text>
<line x1="512.05" y1="560.1" x2="512.05" y2="561.9" stroke="#222" stroke-width="1.1" />
<line x1="542.15" y1="560.1" x2="542.15" y2="561.9" stroke="#222" stroke-width="1.1" />
<line x1="572.25" y1="560.1" x2="572.25" y2="561.9" stroke="#222" stroke-width="1.1" />
<line x1="602.35" y1="560.1" x2="602.35" y2="561.9" stroke="#222" stroke-width="1.1" />
<line x1="632.45" y1="560.1" x2="632.45" y2="561.9" stroke="#222" stroke-width="1.1" />
<line x1="662.55" y1="560.1" x2="662.55" y2="561.9" stroke="#222" stroke-width="1.1" />
<line x1="493.5" y1="548.59" x2="497" y2="548.59" stroke="#222" stroke-width="1.1" />
<text stroke="#111" stroke-width="0.28" x="490.5" y="551.79" font-size="9.2" text-anchor="end" font-weight="bold" fill="#111" >0.0</text>
<line x1="493.5" y1="525.58" x2="497" y2="525.58" stroke="#222" stroke-width="1.1" />
<text stroke="#111" stroke-width="0.28" x="490.5" y="528.78" font-size="9.2" text-anchor="end" font-weight="bold" fill="#111" >0.1</text>
<line x1="493.5" y1="502.56" x2="497" y2="502.56" stroke="#222" stroke-width="1.1" />
<text stroke="#111" stroke-width="0.28" x="490.5" y="505.76" font-size="9.2" text-anchor="end" font-weight="bold" fill="#111" >0.2</text>
<line x1="493.5" y1="479.55" x2="497" y2="479.55" stroke="#222" stroke-width="1.1" />
<text stroke="#111" stroke-width="0.28" x="490.5" y="482.75" font-size="9.2" text-anchor="end" font-weight="bold" fill="#111" >0.3</text>
<line x1="493.5" y1="456.53" x2="497" y2="456.53" stroke="#222" stroke-width="1.1" />
<text stroke="#111" stroke-width="0.28" x="490.5" y="459.73" font-size="9.2" text-anchor="end" font-weight="bold" fill="#111" >0.4</text>
<line x1="493.5" y1="433.52" x2="497" y2="433.52" stroke="#222" stroke-width="1.1" />
<text stroke="#111" stroke-width="0.28" x="490.5" y="436.72" font-size="9.2" text-anchor="end" font-weight="bold" fill="#111" >0.5</text>
<line x1="493.5" y1="410.5" x2="497" y2="410.5" stroke="#222" stroke-width="1.1" />
<text stroke="#111" stroke-width="0.28" x="490.5" y="413.7" font-size="9.2" text-anchor="end" font-weight="bold" fill="#111" >0.6</text>
<line x1="495" y1="537.08" x2="497" y2="537.08" stroke="#222" stroke-width="1.1" />
<line x1="495" y1="514.07" x2="497" y2="514.07" stroke="#222" stroke-width="1.1" />
<line x1="495" y1="491.05" x2="497" y2="491.05" stroke="#222" stroke-width="1.1" />
<line x1="495" y1="468.04" x2="497" y2="468.04" stroke="#222" stroke-width="1.1" />
<line x1="495" y1="445.02" x2="497" y2="445.02" stroke="#222" stroke-width="1.1" />
<line x1="495" y1="422.01" x2="497" y2="422.01" stroke="#222" stroke-width="1.1" />
<text stroke="#111" stroke-width="0.28" x="587.8" y="583.7" font-size="10" text-anchor="middle" font-weight="bold" fill="#111" >Wavelength (nm)</text>
<text stroke="#111" stroke-width="0.28" x="475" y="484.7" font-size="9.8" font-weight="bold" fill="#111" text-anchor="middle" transform="rotate(-90 475 484.7)">Absorbance</text>
<text stroke="#111" stroke-width="0.28" x="502.4" y="423.4" font-size="10" text-anchor="start" font-weight="bold" fill="#111" >C5T-Pco EtOH/H<tspan dy='2.5' font-size='7'>2</tspan><tspan dy='-2.5'>O</tspan></text>
<text stroke="#111" stroke-width="0.28" x="502.4" y="438" font-size="10" text-anchor="start" font-weight="bold" fill="#111" >Time (min)</text>
<line x1="502.4" y1="446.7" x2="524.2" y2="446.7" stroke="#383838" stroke-width="1.0" />
<text stroke="#111" stroke-width="0.28" x="527.3" y="450.3" font-size="10" text-anchor="start" font-weight="bold" fill="#111" >0</text>
<line x1="502.4" y1="459" x2="524.2" y2="459" stroke="#f04c4c" stroke-width="1.4" />
<text stroke="#111" stroke-width="0.28" x="527.3" y="462.6" font-size="10" text-anchor="start" font-weight="bold" fill="#111" >5</text>
<line x1="502.4" y1="471.3" x2="524.2" y2="471.3" stroke="#2a70dc" stroke-width="1.4" />
<text stroke="#111" stroke-width="0.28" x="527.3" y="474.9" font-size="10" text-anchor="start" font-weight="bold" fill="#111" >10</text>
<line x1="502.4" y1="483.6" x2="524.2" y2="483.6" stroke="#34a865" stroke-width="1.4" />
<text stroke="#111" stroke-width="0.28" x="527.3" y="487.2" font-size="10" text-anchor="start" font-weight="bold" fill="#111" >15</text>
<line x1="502.4" y1="495.9" x2="524.2" y2="495.9" stroke="#b07cf0" stroke-width="1.4" />
<text stroke="#111" stroke-width="0.28" x="527.3" y="499.5" font-size="10" text-anchor="start" font-weight="bold" fill="#111" >20</text>
<text stroke="#000" stroke-width="0.28" x="-0.5" y="9" font-size="12.5" text-anchor="start" font-weight="bold" fill="#000" >a</text>
<text stroke="#000" stroke-width="0.28" x="362.8" y="8.8" font-size="12.5" text-anchor="start" font-weight="bold" fill="#000" >b</text>
<text stroke="#000" stroke-width="0.28" x="-0.5" y="209.3" font-size="12.5" text-anchor="start" font-weight="bold" fill="#000" >c</text>
<text stroke="#000" stroke-width="0.28" x="362.6" y="209.5" font-size="12.5" text-anchor="start" font-weight="bold" fill="#000" >d</text>
<text stroke="#000" stroke-width="0.28" x="-0.5" y="405.8" font-size="12.5" text-anchor="start" font-weight="bold" fill="#000" >e</text>
<text stroke="#000" stroke-width="0.28" x="230.4" y="405.8" font-size="12.5" text-anchor="start" font-weight="bold" fill="#000" >f</text>
<text stroke="#000" stroke-width="0.28" x="461.2" y="405.8" font-size="12.5" text-anchor="start" font-weight="bold" fill="#000" >g</text>
</svg>
</body></html>
